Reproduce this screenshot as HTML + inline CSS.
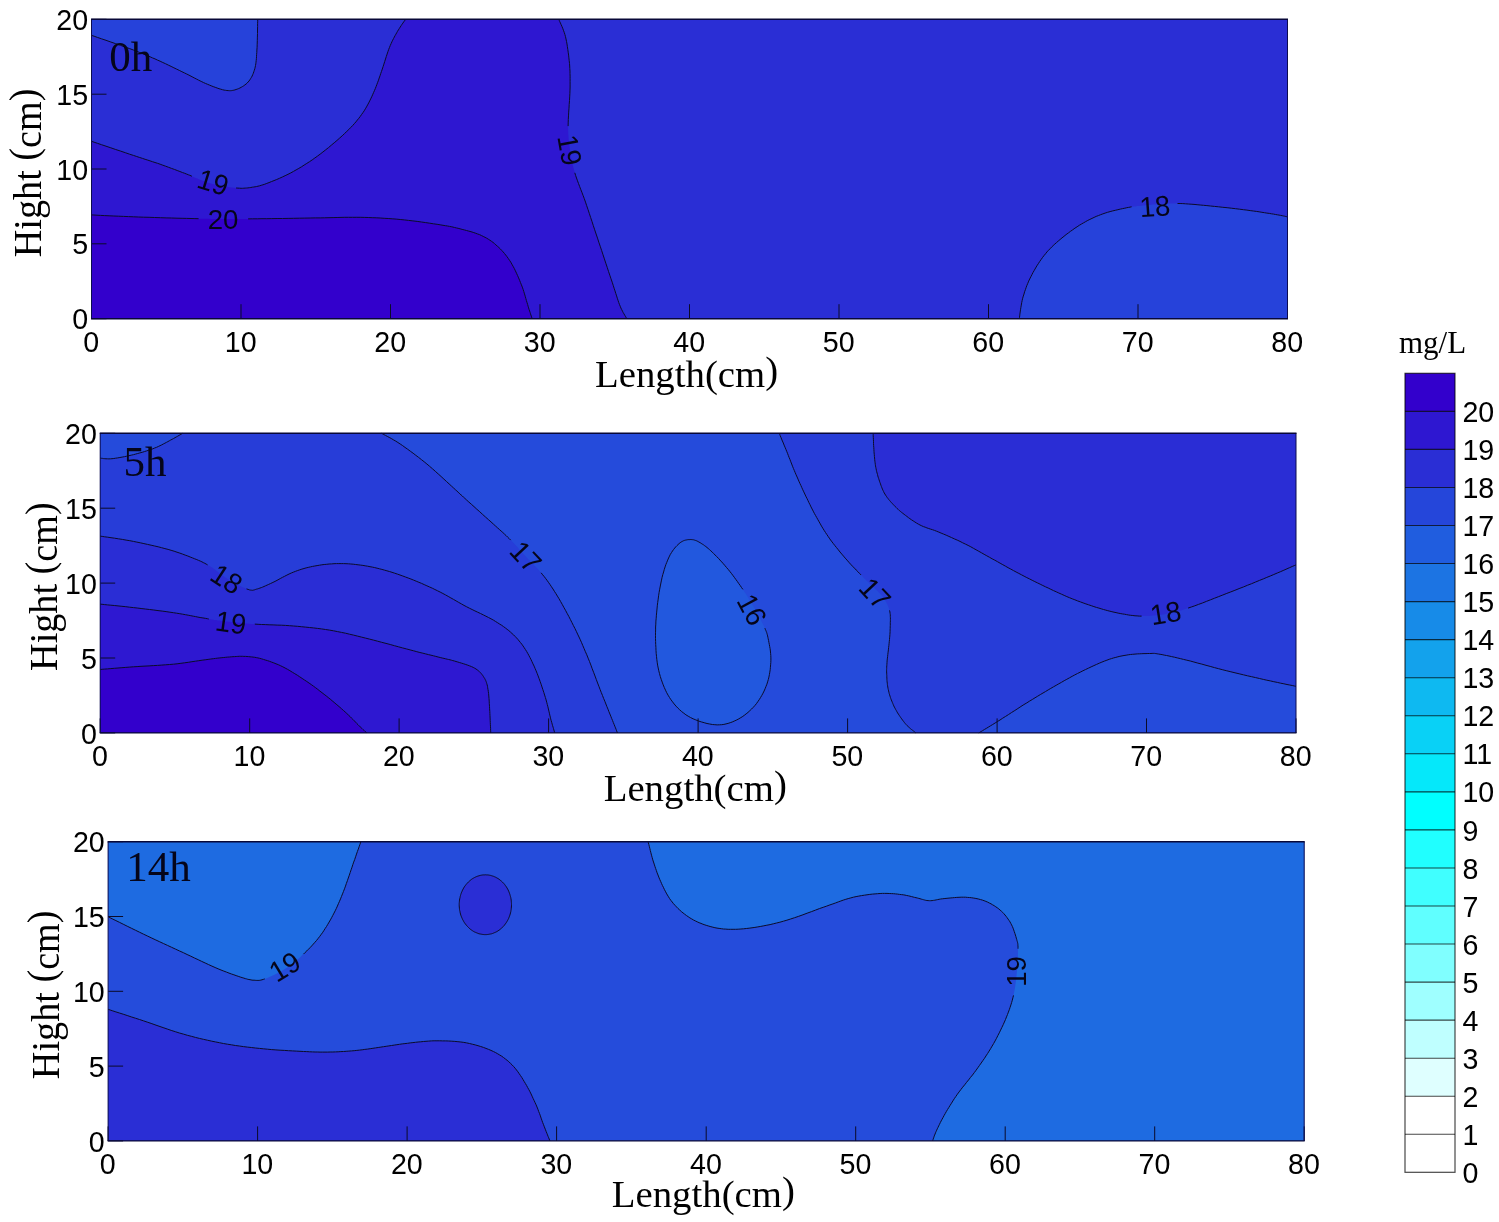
<!DOCTYPE html>
<html lang="en">
<head>
<meta charset="utf-8">
<title>Concentration contour maps at 0h, 5h and 14h</title>
<style>
html,body{margin:0;padding:0;background:#fff;}
body{width:1499px;height:1222px;overflow:hidden;}
svg{display:block;}
text{white-space:pre;}
</style>
</head>
<body>
<svg width="1499" height="1222" viewBox="0 0 1499 1222">
<rect x="0" y="0" width="1499" height="1222" fill="#ffffff"/>
<g>
<rect x="91.5" y="19.3" width="1196.0" height="299.4" fill="#2a2ed5"/>
<path d="M91.5 141.3 L94.1 142.2 L97.4 143.3 L101.5 144.7 L106.0 146.2 L110.8 147.8 L115.7 149.5 L120.6 151.1 L125.3 152.7 L129.6 154.2 L133.4 155.4 L136.7 156.5 L139.7 157.5 L142.5 158.4 L145.1 159.3 L147.7 160.1 L150.1 160.9 L152.5 161.7 L155.0 162.5 L157.5 163.3 L160.1 164.2 L162.8 165.2 L165.6 166.2 L168.6 167.3 L171.5 168.4 L174.4 169.4 L177.2 170.5 L179.9 171.5 L182.4 172.5 L184.7 173.3 L186.7 174.1 L188.4 174.8 L189.8 175.3 L191.0 175.8 L191.9 176.3 L192.8 176.7 L193.6 177.0 L194.4 177.4 L195.2 177.8 L196.2 178.2 L197.4 178.6 L198.7 179.2 L200.0 179.7 L201.4 180.2 L202.8 180.8 L204.2 181.3 L205.7 181.9 L207.3 182.5 L209.0 183.0 L210.7 183.5 L212.6 184.0 L214.7 184.5 L216.9 184.9 L219.3 185.4 L221.8 185.9 L224.4 186.4 L226.9 186.8 L229.4 187.2 L231.8 187.5 L234.1 187.8 L236.1 188.0 L237.9 188.1 L239.6 188.2 L241.1 188.3 L242.5 188.3 L243.9 188.2 L245.2 188.1 L246.6 188.0 L247.9 187.9 L249.3 187.7 L250.8 187.5 L252.3 187.2 L253.7 187.0 L255.1 186.8 L256.6 186.5 L258.0 186.2 L259.6 185.8 L261.2 185.3 L262.9 184.8 L264.8 184.2 L266.8 183.4 L269.0 182.6 L271.4 181.6 L274.0 180.6 L276.7 179.5 L279.5 178.3 L282.3 177.0 L285.1 175.7 L288.0 174.3 L290.8 172.9 L293.5 171.4 L296.1 169.9 L298.8 168.4 L301.5 166.8 L304.1 165.1 L306.8 163.4 L309.5 161.7 L312.2 159.9 L314.8 158.0 L317.5 156.1 L320.2 154.1 L322.9 152.0 L325.7 149.8 L328.5 147.6 L331.3 145.2 L334.2 142.8 L336.9 140.5 L339.6 138.1 L342.2 135.8 L344.6 133.5 L346.8 131.4 L348.9 129.4 L350.8 127.4 L352.6 125.6 L354.3 123.7 L355.9 121.9 L357.3 120.1 L358.8 118.3 L360.2 116.5 L361.5 114.6 L362.9 112.7 L364.2 110.8 L365.4 108.8 L366.5 106.9 L367.6 104.9 L368.7 102.9 L369.7 100.9 L370.7 98.9 L371.7 96.8 L372.6 94.8 L373.5 92.7 L374.4 90.7 L375.3 88.6 L376.1 86.5 L376.9 84.4 L377.7 82.3 L378.5 80.2 L379.2 78.0 L380.0 75.8 L380.7 73.6 L381.5 71.4 L382.3 69.0 L383.1 66.6 L383.9 64.1 L384.7 61.6 L385.5 59.0 L386.3 56.5 L387.1 54.1 L387.9 51.7 L388.7 49.4 L389.5 47.4 L390.3 45.4 L391.1 43.6 L391.9 41.8 L392.7 40.2 L393.5 38.6 L394.3 37.1 L395.1 35.6 L395.9 34.2 L396.7 32.8 L397.5 31.3 L398.4 29.9 L399.3 28.5 L400.2 27.1 L401.1 25.7 L402.0 24.3 L402.9 23.1 L403.7 21.9 L404.5 20.9 L405.1 20.0 L405.6 19.3 L558.8 19.3 L559.2 20.3 L559.7 21.5 L560.4 22.9 L561.1 24.6 L561.9 26.3 L562.7 28.2 L563.4 30.2 L564.2 32.3 L564.9 34.5 L565.5 36.7 L566.0 39.0 L566.5 41.4 L567.0 44.0 L567.4 46.7 L567.8 49.4 L568.2 52.2 L568.6 55.1 L568.9 57.9 L569.2 60.7 L569.5 63.4 L569.7 66.0 L569.8 68.6 L570.0 71.1 L570.0 73.6 L570.1 76.1 L570.1 78.7 L570.1 81.4 L570.1 84.1 L570.1 87.0 L570.0 90.1 L569.9 93.3 L569.7 96.9 L569.5 100.6 L569.2 104.4 L569.0 108.2 L568.7 112.1 L568.5 115.9 L568.3 119.5 L568.2 122.9 L568.1 126.1 L568.1 129.0 L568.2 131.7 L568.3 134.2 L568.5 136.6 L568.6 138.9 L568.9 141.2 L569.1 143.4 L569.4 145.6 L569.7 147.8 L570.0 150.1 L570.3 152.4 L570.7 154.6 L571.0 156.8 L571.4 158.9 L571.8 161.1 L572.3 163.3 L572.8 165.5 L573.4 167.8 L574.1 170.2 L574.8 172.8 L575.6 175.4 L576.5 178.0 L577.5 180.8 L578.5 183.5 L579.6 186.4 L580.7 189.3 L581.9 192.3 L583.1 195.5 L584.3 198.7 L585.5 202.1 L586.7 205.7 L588.0 209.5 L589.3 213.4 L590.6 217.4 L592.0 221.5 L593.3 225.6 L594.7 229.8 L596.1 234.0 L597.5 238.1 L598.8 242.2 L600.2 246.2 L601.6 250.4 L603.0 254.7 L604.4 258.9 L605.8 263.2 L607.2 267.3 L608.5 271.4 L609.8 275.2 L611.0 278.8 L612.2 282.2 L613.2 285.3 L614.1 288.2 L615.0 290.9 L615.8 293.5 L616.6 295.9 L617.3 298.2 L618.0 300.3 L618.7 302.4 L619.4 304.3 L620.2 306.2 L620.9 308.0 L621.7 309.6 L622.5 311.2 L623.2 312.6 L624.0 313.9 L624.7 315.2 L625.4 316.2 L625.9 317.2 L626.4 318.0 L626.8 318.7 L91.5 318.7 Z" fill="#2e17d1"/>
</g>
<g>
<rect x="91.5" y="19.3" width="1196.0" height="299.4" fill="none"/>
<path d="M91.5 141.3 L94.1 142.2 L97.4 143.3 L101.5 144.7 L106.0 146.2 L110.8 147.8 L115.7 149.5 L120.6 151.1 L125.3 152.7 L129.6 154.2 L133.4 155.4 L136.7 156.5 L139.7 157.5 L142.5 158.4 L145.1 159.3 L147.7 160.1 L150.1 160.9 L152.5 161.7 L155.0 162.5 L157.5 163.3 L160.1 164.2 L162.8 165.2 L165.6 166.2 L168.6 167.3 L171.5 168.4 L174.4 169.4 L177.2 170.5 L179.9 171.5 L182.4 172.5 L184.7 173.3 L186.7 174.1 L188.4 174.8 L189.8 175.3 L191.0 175.8 L191.9 176.3 L192.8 176.7 L193.6 177.0 L194.4 177.4 L195.2 177.8 L196.2 178.2 L197.4 178.6 L198.7 179.2 L200.0 179.7 L201.4 180.2 L202.8 180.8 L204.2 181.3 L205.7 181.9 L207.3 182.5 L209.0 183.0 L210.7 183.5 L212.6 184.0 L214.7 184.5 L216.9 184.9 L219.3 185.4 L221.8 185.9 L224.4 186.4 L226.9 186.8 L229.4 187.2 L231.8 187.5 L234.1 187.8 L236.1 188.0 L237.9 188.1 L239.6 188.2 L241.1 188.3 L242.5 188.3 L243.9 188.2 L245.2 188.1 L246.6 188.0 L247.9 187.9 L249.3 187.7 L250.8 187.5 L252.3 187.2 L253.7 187.0 L255.1 186.8 L256.6 186.5 L258.0 186.2 L259.6 185.8 L261.2 185.3 L262.9 184.8 L264.8 184.2 L266.8 183.4 L269.0 182.6 L271.4 181.6 L274.0 180.6 L276.7 179.5 L279.5 178.3 L282.3 177.0 L285.1 175.7 L288.0 174.3 L290.8 172.9 L293.5 171.4 L296.1 169.9 L298.8 168.4 L301.5 166.8 L304.1 165.1 L306.8 163.4 L309.5 161.7 L312.2 159.9 L314.8 158.0 L317.5 156.1 L320.2 154.1 L322.9 152.0 L325.7 149.8 L328.5 147.6 L331.3 145.2 L334.2 142.8 L336.9 140.5 L339.6 138.1 L342.2 135.8 L344.6 133.5 L346.8 131.4 L348.9 129.4 L350.8 127.4 L352.6 125.6 L354.3 123.7 L355.9 121.9 L357.3 120.1 L358.8 118.3 L360.2 116.5 L361.5 114.6 L362.9 112.7 L364.2 110.8 L365.4 108.8 L366.5 106.9 L367.6 104.9 L368.7 102.9 L369.7 100.9 L370.7 98.9 L371.7 96.8 L372.6 94.8 L373.5 92.7 L374.4 90.7 L375.3 88.6 L376.1 86.5 L376.9 84.4 L377.7 82.3 L378.5 80.2 L379.2 78.0 L380.0 75.8 L380.7 73.6 L381.5 71.4 L382.3 69.0 L383.1 66.6 L383.9 64.1 L384.7 61.6 L385.5 59.0 L386.3 56.5 L387.1 54.1 L387.9 51.7 L388.7 49.4 L389.5 47.4 L390.3 45.4 L391.1 43.6 L391.9 41.8 L392.7 40.2 L393.5 38.6 L394.3 37.1 L395.1 35.6 L395.9 34.2 L396.7 32.8 L397.5 31.3 L398.4 29.9 L399.3 28.5 L400.2 27.1 L401.1 25.7 L402.0 24.3 L402.9 23.1 L403.7 21.9 L404.5 20.9 L405.1 20.0 L405.6 19.3 Z" fill="none"/>
<path d="M558.8 19.3 L559.2 20.3 L559.7 21.5 L560.4 22.9 L561.1 24.6 L561.9 26.3 L562.7 28.2 L563.4 30.2 L564.2 32.3 L564.9 34.5 L565.5 36.7 L566.0 39.0 L566.5 41.4 L567.0 44.0 L567.4 46.7 L567.8 49.4 L568.2 52.2 L568.6 55.1 L568.9 57.9 L569.2 60.7 L569.5 63.4 L569.7 66.0 L569.8 68.6 L570.0 71.1 L570.0 73.6 L570.1 76.1 L570.1 78.7 L570.1 81.4 L570.1 84.1 L570.1 87.0 L570.0 90.1 L569.9 93.3 L569.7 96.9 L569.5 100.6 L569.2 104.4 L569.0 108.2 L568.7 112.1 L568.5 115.9 L568.3 119.5 L568.2 122.9 L568.1 126.1 L568.1 129.0 L568.2 131.7 L568.3 134.2 L568.5 136.6 L568.6 138.9 L568.9 141.2 L569.1 143.4 L569.4 145.6 L569.7 147.8 L570.0 150.1 L570.3 152.4 L570.7 154.6 L571.0 156.8 L571.4 158.9 L571.8 161.1 L572.3 163.3 L572.8 165.5 L573.4 167.8 L574.1 170.2 L574.8 172.8 L575.6 175.4 L576.5 178.0 L577.5 180.8 L578.5 183.5 L579.6 186.4 L580.7 189.3 L581.9 192.3 L583.1 195.5 L584.3 198.7 L585.5 202.1 L586.7 205.7 L588.0 209.5 L589.3 213.4 L590.6 217.4 L592.0 221.5 L593.3 225.6 L594.7 229.8 L596.1 234.0 L597.5 238.1 L598.8 242.2 L600.2 246.2 L601.6 250.4 L603.0 254.7 L604.4 258.9 L605.8 263.2 L607.2 267.3 L608.5 271.4 L609.8 275.2 L611.0 278.8 L612.2 282.2 L613.2 285.3 L614.1 288.2 L615.0 290.9 L615.8 293.5 L616.6 295.9 L617.3 298.2 L618.0 300.3 L618.7 302.4 L619.4 304.3 L620.2 306.2 L620.9 308.0 L621.7 309.6 L622.5 311.2 L623.2 312.6 L624.0 313.9 L624.7 315.2 L625.4 316.2 L625.9 317.2 L626.4 318.0 L626.8 318.7 Z" fill="none"/>
<path d="M91.5 214.9 L93.9 215.0 L97.0 215.2 L100.6 215.4 L104.7 215.6 L109.1 215.8 L113.8 216.0 L118.6 216.2 L123.6 216.4 L128.5 216.6 L133.4 216.8 L138.3 217.0 L143.6 217.2 L149.1 217.3 L154.7 217.5 L160.4 217.7 L166.1 217.9 L171.6 218.0 L177.0 218.2 L182.1 218.3 L186.7 218.4 L191.0 218.5 L194.9 218.6 L198.6 218.7 L202.0 218.7 L205.3 218.8 L208.6 218.8 L211.9 218.9 L215.3 218.9 L218.9 218.9 L222.8 218.9 L226.8 218.9 L230.9 218.9 L235.1 218.9 L239.3 218.9 L243.7 218.9 L248.1 218.9 L252.6 218.8 L257.3 218.8 L262.0 218.7 L266.8 218.7 L271.8 218.6 L277.1 218.5 L282.5 218.5 L288.1 218.4 L293.7 218.3 L299.3 218.2 L304.8 218.1 L310.2 218.0 L315.3 217.9 L320.2 217.9 L324.7 217.8 L329.0 217.7 L333.1 217.6 L337.1 217.5 L341.0 217.4 L344.8 217.3 L348.6 217.3 L352.4 217.3 L356.2 217.3 L360.2 217.3 L364.2 217.4 L368.2 217.5 L372.2 217.7 L376.2 217.8 L380.2 218.0 L384.2 218.3 L388.2 218.5 L392.2 218.8 L396.2 219.1 L400.2 219.5 L404.3 219.9 L408.5 220.4 L412.9 220.9 L417.2 221.4 L421.5 222.0 L425.7 222.6 L429.7 223.2 L433.5 223.8 L437.1 224.3 L440.2 224.8 L443.0 225.3 L445.5 225.7 L447.6 226.0 L449.5 226.4 L451.3 226.7 L453.0 227.1 L454.6 227.5 L456.3 227.9 L458.1 228.3 L460.1 228.8 L462.1 229.4 L464.3 229.9 L466.5 230.5 L468.7 231.1 L471.0 231.7 L473.2 232.4 L475.3 233.1 L477.4 233.9 L479.5 234.6 L481.4 235.5 L483.2 236.4 L485.0 237.3 L486.7 238.2 L488.3 239.2 L489.9 240.2 L491.5 241.3 L493.0 242.4 L494.5 243.6 L495.9 244.9 L497.4 246.2 L498.9 247.5 L500.3 248.9 L501.7 250.4 L503.1 251.9 L504.4 253.4 L505.7 255.0 L507.0 256.7 L508.3 258.5 L509.5 260.3 L510.8 262.2 L511.9 264.2 L513.1 266.3 L514.3 268.5 L515.4 270.8 L516.5 273.2 L517.6 275.6 L518.6 277.9 L519.6 280.3 L520.5 282.6 L521.4 284.8 L522.3 287.1 L523.1 289.3 L523.8 291.6 L524.5 293.9 L525.2 296.2 L525.8 298.4 L526.4 300.5 L527.0 302.5 L527.6 304.4 L528.1 306.2 L528.6 307.9 L529.1 309.5 L529.6 311.0 L530.1 312.4 L530.5 313.8 L530.9 315.0 L531.3 316.1 L531.6 317.1 L531.9 318.0 L532.1 318.7 L91.5 318.7 Z" fill="#3300cc"/>
<path d="M91.5 35.4 L94.1 36.2 L97.4 37.4 L101.5 38.8 L106.0 40.3 L110.8 42.0 L115.7 43.7 L120.6 45.4 L125.3 47.1 L129.6 48.6 L133.4 50.0 L136.7 51.3 L139.7 52.5 L142.5 53.6 L145.1 54.7 L147.7 55.7 L150.1 56.8 L152.5 57.9 L155.0 58.9 L157.5 60.1 L160.1 61.2 L162.8 62.5 L165.5 63.7 L168.3 65.1 L171.1 66.4 L173.9 67.8 L176.6 69.1 L179.3 70.4 L181.9 71.7 L184.4 72.9 L186.7 74.0 L188.9 75.1 L191.0 76.2 L192.9 77.2 L194.8 78.2 L196.6 79.1 L198.3 80.0 L200.1 80.9 L201.8 81.7 L203.6 82.6 L205.4 83.4 L207.3 84.2 L209.3 85.0 L211.2 85.8 L213.2 86.6 L215.2 87.3 L217.1 88.0 L219.0 88.7 L220.8 89.2 L222.5 89.7 L224.1 90.1 L225.6 90.3 L226.9 90.5 L228.2 90.6 L229.4 90.7 L230.5 90.7 L231.6 90.6 L232.7 90.4 L233.8 90.2 L234.9 89.9 L236.1 89.5 L237.3 89.1 L238.6 88.6 L239.9 88.0 L241.2 87.3 L242.4 86.6 L243.7 85.8 L244.9 84.9 L246.1 84.0 L247.1 83.1 L248.1 82.0 L249.0 81.0 L249.9 79.8 L250.6 78.6 L251.4 77.4 L252.1 76.1 L252.7 74.7 L253.3 73.3 L253.8 71.8 L254.3 70.3 L254.8 68.7 L255.2 67.1 L255.5 65.5 L255.8 63.9 L256.0 62.2 L256.2 60.5 L256.4 58.6 L256.5 56.7 L256.6 54.6 L256.8 52.4 L256.9 50.0 L257.1 47.3 L257.2 44.2 L257.3 40.7 L257.4 37.1 L257.5 33.5 L257.5 30.0 L257.6 26.6 L257.6 23.7 L257.7 21.2 L257.7 19.3 L91.5 19.3 Z" fill="#2642da"/>
<path d="M1019.3 318.7 L1019.5 317.5 L1019.7 315.9 L1019.9 314.1 L1020.2 312.0 L1020.5 309.8 L1020.9 307.4 L1021.3 305.1 L1021.7 302.7 L1022.2 300.4 L1022.7 298.2 L1023.3 296.1 L1024.0 294.0 L1024.6 291.8 L1025.4 289.7 L1026.1 287.6 L1026.9 285.4 L1027.8 283.3 L1028.7 281.1 L1029.7 279.0 L1030.8 276.8 L1031.9 274.7 L1033.0 272.5 L1034.3 270.3 L1035.6 268.0 L1036.9 265.8 L1038.3 263.7 L1039.7 261.5 L1041.2 259.4 L1042.6 257.4 L1044.1 255.5 L1045.6 253.7 L1047.0 251.9 L1048.5 250.3 L1050.1 248.7 L1051.6 247.1 L1053.2 245.6 L1054.8 244.1 L1056.5 242.6 L1058.3 241.0 L1060.1 239.5 L1062.0 237.9 L1064.0 236.3 L1066.1 234.6 L1068.3 233.0 L1070.4 231.4 L1072.7 229.8 L1074.9 228.2 L1077.1 226.8 L1079.3 225.3 L1081.5 224.0 L1083.6 222.8 L1085.7 221.6 L1087.8 220.4 L1089.9 219.4 L1092.0 218.4 L1094.1 217.4 L1096.2 216.4 L1098.4 215.6 L1100.6 214.7 L1102.8 213.9 L1105.1 213.1 L1107.6 212.3 L1110.1 211.6 L1112.7 210.9 L1115.3 210.3 L1117.9 209.7 L1120.3 209.1 L1122.7 208.6 L1124.8 208.2 L1126.8 207.7 L1128.6 207.4 L1130.1 207.1 L1131.6 206.8 L1132.9 206.7 L1134.1 206.5 L1135.2 206.4 L1136.4 206.3 L1137.6 206.1 L1138.8 206.0 L1140.2 205.9 L1141.5 205.7 L1142.9 205.6 L1144.2 205.4 L1145.6 205.3 L1146.9 205.1 L1148.3 205.0 L1149.8 204.9 L1151.4 204.8 L1153.0 204.6 L1154.8 204.5 L1156.8 204.4 L1158.8 204.2 L1160.8 204.1 L1163.0 203.9 L1165.3 203.8 L1167.6 203.6 L1170.0 203.5 L1172.4 203.5 L1174.9 203.4 L1177.5 203.5 L1180.1 203.5 L1182.8 203.6 L1185.5 203.8 L1188.3 204.0 L1191.1 204.2 L1194.0 204.4 L1197.1 204.7 L1200.2 205.0 L1203.5 205.3 L1206.9 205.6 L1210.5 206.0 L1214.4 206.4 L1218.5 206.8 L1222.8 207.3 L1227.1 207.7 L1231.3 208.2 L1235.5 208.7 L1239.6 209.2 L1243.4 209.7 L1246.9 210.1 L1250.2 210.6 L1253.3 211.0 L1256.3 211.4 L1259.1 211.8 L1261.9 212.3 L1264.5 212.7 L1266.9 213.1 L1269.3 213.4 L1271.5 213.8 L1273.6 214.1 L1275.6 214.5 L1277.4 214.8 L1279.1 215.1 L1280.7 215.4 L1282.2 215.7 L1283.5 216.0 L1284.7 216.2 L1285.8 216.5 L1286.7 216.7 L1287.5 216.8 L1287.5 318.7 Z" fill="#2642da"/>
<path d="M91.5 141.3 L94.1 142.2 L97.4 143.3 L101.5 144.7 L106.0 146.2 L110.8 147.8 L115.7 149.5 L120.6 151.1 L125.3 152.7 L129.6 154.2 L133.4 155.4 L136.7 156.5 L139.7 157.5 L142.5 158.4 L145.1 159.3 L147.7 160.1 L150.1 160.9 L152.5 161.7 L155.0 162.5 L157.5 163.3 L160.1 164.2 L162.8 165.2 L165.6 166.2 L168.6 167.3 L171.5 168.4 L174.4 169.4 L177.2 170.5 L179.9 171.5 L182.4 172.5 L184.7 173.3 L186.7 174.1 L188.4 174.8 L189.8 175.3 L191.0 175.8 L191.9 176.3" fill="none" stroke="#0b0b2a" stroke-width="1"/>
<path d="M236.1 188.0 L237.9 188.1 L239.6 188.2 L241.1 188.3 L242.5 188.3 L243.9 188.2 L245.2 188.1 L246.6 188.0 L247.9 187.9 L249.3 187.7 L250.8 187.5 L252.3 187.2 L253.7 187.0 L255.1 186.8 L256.6 186.5 L258.0 186.2 L259.6 185.8 L261.2 185.3 L262.9 184.8 L264.8 184.2 L266.8 183.4 L269.0 182.6 L271.4 181.6 L274.0 180.6 L276.7 179.5 L279.5 178.3 L282.3 177.0 L285.1 175.7 L288.0 174.3 L290.8 172.9 L293.5 171.4 L296.1 169.9 L298.8 168.4 L301.5 166.8 L304.1 165.1 L306.8 163.4 L309.5 161.7 L312.2 159.9 L314.8 158.0 L317.5 156.1 L320.2 154.1 L322.9 152.0 L325.7 149.8 L328.5 147.6 L331.3 145.2 L334.2 142.8 L336.9 140.5 L339.6 138.1 L342.2 135.8 L344.6 133.5 L346.8 131.4 L348.9 129.4 L350.8 127.4 L352.6 125.6 L354.3 123.7 L355.9 121.9 L357.3 120.1 L358.8 118.3 L360.2 116.5 L361.5 114.6 L362.9 112.7 L364.2 110.8 L365.4 108.8 L366.5 106.9 L367.6 104.9 L368.7 102.9 L369.7 100.9 L370.7 98.9 L371.7 96.8 L372.6 94.8 L373.5 92.7 L374.4 90.7 L375.3 88.6 L376.1 86.5 L376.9 84.4 L377.7 82.3 L378.5 80.2 L379.2 78.0 L380.0 75.8 L380.7 73.6 L381.5 71.4 L382.3 69.0 L383.1 66.6 L383.9 64.1 L384.7 61.6 L385.5 59.0 L386.3 56.5 L387.1 54.1 L387.9 51.7 L388.7 49.4 L389.5 47.4 L390.3 45.4 L391.1 43.6 L391.9 41.8 L392.7 40.2 L393.5 38.6 L394.3 37.1 L395.1 35.6 L395.9 34.2 L396.7 32.8 L397.5 31.3 L398.4 29.9 L399.3 28.5 L400.2 27.1 L401.1 25.7 L402.0 24.3 L402.9 23.1 L403.7 21.9 L404.5 20.9 L405.1 20.0 L405.6 19.3" fill="none" stroke="#0b0b2a" stroke-width="1"/>
<path d="M558.8 19.3 L559.2 20.3 L559.7 21.5 L560.4 22.9 L561.1 24.6 L561.9 26.3 L562.7 28.2 L563.4 30.2 L564.2 32.3 L564.9 34.5 L565.5 36.7 L566.0 39.0 L566.5 41.4 L567.0 44.0 L567.4 46.7 L567.8 49.4 L568.2 52.2 L568.6 55.1 L568.9 57.9 L569.2 60.7 L569.5 63.4 L569.7 66.0 L569.8 68.6 L570.0 71.1 L570.0 73.6 L570.1 76.1 L570.1 78.7 L570.1 81.4 L570.1 84.1 L570.1 87.0 L570.0 90.1 L569.9 93.3 L569.7 96.9 L569.5 100.6 L569.2 104.4 L569.0 108.2 L568.7 112.1 L568.5 115.9 L568.3 119.5 L568.2 122.9 L568.1 126.1" fill="none" stroke="#0b0b2a" stroke-width="1"/>
<path d="M574.8 172.8 L575.6 175.4 L576.5 178.0 L577.5 180.8 L578.5 183.5 L579.6 186.4 L580.7 189.3 L581.9 192.3 L583.1 195.5 L584.3 198.7 L585.5 202.1 L586.7 205.7 L588.0 209.5 L589.3 213.4 L590.6 217.4 L592.0 221.5 L593.3 225.6 L594.7 229.8 L596.1 234.0 L597.5 238.1 L598.8 242.2 L600.2 246.2 L601.6 250.4 L603.0 254.7 L604.4 258.9 L605.8 263.2 L607.2 267.3 L608.5 271.4 L609.8 275.2 L611.0 278.8 L612.2 282.2 L613.2 285.3 L614.1 288.2 L615.0 290.9 L615.8 293.5 L616.6 295.9 L617.3 298.2 L618.0 300.3 L618.7 302.4 L619.4 304.3 L620.2 306.2 L620.9 308.0 L621.7 309.6 L622.5 311.2 L623.2 312.6 L624.0 313.9 L624.7 315.2 L625.4 316.2 L625.9 317.2 L626.4 318.0 L626.8 318.7" fill="none" stroke="#0b0b2a" stroke-width="1"/>
<path d="M91.5 214.9 L93.9 215.0 L97.0 215.2 L100.6 215.4 L104.7 215.6 L109.1 215.8 L113.8 216.0 L118.6 216.2 L123.6 216.4 L128.5 216.6 L133.4 216.8 L138.3 217.0 L143.6 217.2 L149.1 217.3 L154.7 217.5 L160.4 217.7 L166.1 217.9 L171.6 218.0 L177.0 218.2 L182.1 218.3 L186.7 218.4 L191.0 218.5 L194.9 218.6 L198.6 218.7" fill="none" stroke="#0b0b2a" stroke-width="1"/>
<path d="M248.1 218.9 L252.6 218.8 L257.3 218.8 L262.0 218.7 L266.8 218.7 L271.8 218.6 L277.1 218.5 L282.5 218.5 L288.1 218.4 L293.7 218.3 L299.3 218.2 L304.8 218.1 L310.2 218.0 L315.3 217.9 L320.2 217.9 L324.7 217.8 L329.0 217.7 L333.1 217.6 L337.1 217.5 L341.0 217.4 L344.8 217.3 L348.6 217.3 L352.4 217.3 L356.2 217.3 L360.2 217.3 L364.2 217.4 L368.2 217.5 L372.2 217.7 L376.2 217.8 L380.2 218.0 L384.2 218.3 L388.2 218.5 L392.2 218.8 L396.2 219.1 L400.2 219.5 L404.3 219.9 L408.5 220.4 L412.9 220.9 L417.2 221.4 L421.5 222.0 L425.7 222.6 L429.7 223.2 L433.5 223.8 L437.1 224.3 L440.2 224.8 L443.0 225.3 L445.5 225.7 L447.6 226.0 L449.5 226.4 L451.3 226.7 L453.0 227.1 L454.6 227.5 L456.3 227.9 L458.1 228.3 L460.1 228.8 L462.1 229.4 L464.3 229.9 L466.5 230.5 L468.7 231.1 L471.0 231.7 L473.2 232.4 L475.3 233.1 L477.4 233.9 L479.5 234.6 L481.4 235.5 L483.2 236.4 L485.0 237.3 L486.7 238.2 L488.3 239.2 L489.9 240.2 L491.5 241.3 L493.0 242.4 L494.5 243.6 L495.9 244.9 L497.4 246.2 L498.9 247.5 L500.3 248.9 L501.7 250.4 L503.1 251.9 L504.4 253.4 L505.7 255.0 L507.0 256.7 L508.3 258.5 L509.5 260.3 L510.8 262.2 L511.9 264.2 L513.1 266.3 L514.3 268.5 L515.4 270.8 L516.5 273.2 L517.6 275.6 L518.6 277.9 L519.6 280.3 L520.5 282.6 L521.4 284.8 L522.3 287.1 L523.1 289.3 L523.8 291.6 L524.5 293.9 L525.2 296.2 L525.8 298.4 L526.4 300.5 L527.0 302.5 L527.6 304.4 L528.1 306.2 L528.6 307.9 L529.1 309.5 L529.6 311.0 L530.1 312.4 L530.5 313.8 L530.9 315.0 L531.3 316.1 L531.6 317.1 L531.9 318.0 L532.1 318.7" fill="none" stroke="#0b0b2a" stroke-width="1"/>
<path d="M91.5 35.4 L94.1 36.2 L97.4 37.4 L101.5 38.8 L106.0 40.3 L110.8 42.0 L115.7 43.7 L120.6 45.4 L125.3 47.1 L129.6 48.6 L133.4 50.0 L136.7 51.3 L139.7 52.5 L142.5 53.6 L145.1 54.7 L147.7 55.7 L150.1 56.8 L152.5 57.9 L155.0 58.9 L157.5 60.1 L160.1 61.2 L162.8 62.5 L165.5 63.7 L168.3 65.1 L171.1 66.4 L173.9 67.8 L176.6 69.1 L179.3 70.4 L181.9 71.7 L184.4 72.9 L186.7 74.0 L188.9 75.1 L191.0 76.2 L192.9 77.2 L194.8 78.2 L196.6 79.1 L198.3 80.0 L200.1 80.9 L201.8 81.7 L203.6 82.6 L205.4 83.4 L207.3 84.2 L209.3 85.0 L211.2 85.8 L213.2 86.6 L215.2 87.3 L217.1 88.0 L219.0 88.7 L220.8 89.2 L222.5 89.7 L224.1 90.1 L225.6 90.3 L226.9 90.5 L228.2 90.6 L229.4 90.7 L230.5 90.7 L231.6 90.6 L232.7 90.4 L233.8 90.2 L234.9 89.9 L236.1 89.5 L237.3 89.1 L238.6 88.6 L239.9 88.0 L241.2 87.3 L242.4 86.6 L243.7 85.8 L244.9 84.9 L246.1 84.0 L247.1 83.1 L248.1 82.0 L249.0 81.0 L249.9 79.8 L250.6 78.6 L251.4 77.4 L252.1 76.1 L252.7 74.7 L253.3 73.3 L253.8 71.8 L254.3 70.3 L254.8 68.7 L255.2 67.1 L255.5 65.5 L255.8 63.9 L256.0 62.2 L256.2 60.5 L256.4 58.6 L256.5 56.7 L256.6 54.6 L256.8 52.4 L256.9 50.0 L257.1 47.3 L257.2 44.2 L257.3 40.7 L257.4 37.1 L257.5 33.5 L257.5 30.0 L257.6 26.6 L257.6 23.7 L257.7 21.2 L257.7 19.3" fill="none" stroke="#0b0b2a" stroke-width="1"/>
<path d="M1019.3 318.7 L1019.5 317.5 L1019.7 315.9 L1019.9 314.1 L1020.2 312.0 L1020.5 309.8 L1020.9 307.4 L1021.3 305.1 L1021.7 302.7 L1022.2 300.4 L1022.7 298.2 L1023.3 296.1 L1024.0 294.0 L1024.6 291.8 L1025.4 289.7 L1026.1 287.6 L1026.9 285.4 L1027.8 283.3 L1028.7 281.1 L1029.7 279.0 L1030.8 276.8 L1031.9 274.7 L1033.0 272.5 L1034.3 270.3 L1035.6 268.0 L1036.9 265.8 L1038.3 263.7 L1039.7 261.5 L1041.2 259.4 L1042.6 257.4 L1044.1 255.5 L1045.6 253.7 L1047.0 251.9 L1048.5 250.3 L1050.1 248.7 L1051.6 247.1 L1053.2 245.6 L1054.8 244.1 L1056.5 242.6 L1058.3 241.0 L1060.1 239.5 L1062.0 237.9 L1064.0 236.3 L1066.1 234.6 L1068.3 233.0 L1070.4 231.4 L1072.7 229.8 L1074.9 228.2 L1077.1 226.8 L1079.3 225.3 L1081.5 224.0 L1083.6 222.8 L1085.7 221.6 L1087.8 220.4 L1089.9 219.4 L1092.0 218.4 L1094.1 217.4 L1096.2 216.4 L1098.4 215.6 L1100.6 214.7 L1102.8 213.9 L1105.1 213.1 L1107.6 212.3 L1110.1 211.6 L1112.7 210.9 L1115.3 210.3 L1117.9 209.7 L1120.3 209.1 L1122.7 208.6 L1124.8 208.2 L1126.8 207.7 L1128.6 207.4 L1130.1 207.1 L1131.6 206.8" fill="none" stroke="#0b0b2a" stroke-width="1"/>
<path d="M1177.5 203.5 L1180.1 203.5 L1182.8 203.6 L1185.5 203.8 L1188.3 204.0 L1191.1 204.2 L1194.0 204.4 L1197.1 204.7 L1200.2 205.0 L1203.5 205.3 L1206.9 205.6 L1210.5 206.0 L1214.4 206.4 L1218.5 206.8 L1222.8 207.3 L1227.1 207.7 L1231.3 208.2 L1235.5 208.7 L1239.6 209.2 L1243.4 209.7 L1246.9 210.1 L1250.2 210.6 L1253.3 211.0 L1256.3 211.4 L1259.1 211.8 L1261.9 212.3 L1264.5 212.7 L1266.9 213.1 L1269.3 213.4 L1271.5 213.8 L1273.6 214.1 L1275.6 214.5 L1277.4 214.8 L1279.1 215.1 L1280.7 215.4 L1282.2 215.7 L1283.5 216.0 L1284.7 216.2 L1285.8 216.5 L1286.7 216.7 L1287.5 216.8" fill="none" stroke="#0b0b2a" stroke-width="1"/>
<text transform="translate(213.2 182.1) rotate(17.0) scale(0.97 1)" x="0" y="10.2" text-anchor="middle" font-family="'Liberation Sans', sans-serif" font-size="28.5" fill="#05051a">19</text>
<text transform="translate(570.0 150.1) rotate(80.0) scale(0.97 1)" x="0" y="10.2" text-anchor="middle" font-family="'Liberation Sans', sans-serif" font-size="28.5" fill="#05051a">19</text>
<text transform="translate(223.0 218.7) rotate(0.0) scale(0.97 1)" x="0" y="10.2" text-anchor="middle" font-family="'Liberation Sans', sans-serif" font-size="28.5" fill="#05051a">20</text>
<text transform="translate(1154.8 206.1) rotate(-4.0) scale(0.97 1)" x="0" y="10.2" text-anchor="middle" font-family="'Liberation Sans', sans-serif" font-size="28.5" fill="#05051a">18</text>
<line x1="91.5" y1="318.7" x2="91.5" y2="304.2" stroke="#0b0b2a" stroke-width="1"/>
<text transform="translate(91.2 351.6) scale(0.97 1)" text-anchor="middle" font-family="'Liberation Sans', sans-serif" font-size="29.5" fill="#000">0</text>
<line x1="241.0" y1="318.7" x2="241.0" y2="304.2" stroke="#0b0b2a" stroke-width="1"/>
<text transform="translate(240.7 351.6) scale(0.97 1)" text-anchor="middle" font-family="'Liberation Sans', sans-serif" font-size="29.5" fill="#000">10</text>
<line x1="390.5" y1="318.7" x2="390.5" y2="304.2" stroke="#0b0b2a" stroke-width="1"/>
<text transform="translate(390.2 351.6) scale(0.97 1)" text-anchor="middle" font-family="'Liberation Sans', sans-serif" font-size="29.5" fill="#000">20</text>
<line x1="540.0" y1="318.7" x2="540.0" y2="304.2" stroke="#0b0b2a" stroke-width="1"/>
<text transform="translate(539.7 351.6) scale(0.97 1)" text-anchor="middle" font-family="'Liberation Sans', sans-serif" font-size="29.5" fill="#000">30</text>
<line x1="689.5" y1="318.7" x2="689.5" y2="304.2" stroke="#0b0b2a" stroke-width="1"/>
<text transform="translate(689.2 351.6) scale(0.97 1)" text-anchor="middle" font-family="'Liberation Sans', sans-serif" font-size="29.5" fill="#000">40</text>
<line x1="839.0" y1="318.7" x2="839.0" y2="304.2" stroke="#0b0b2a" stroke-width="1"/>
<text transform="translate(838.7 351.6) scale(0.97 1)" text-anchor="middle" font-family="'Liberation Sans', sans-serif" font-size="29.5" fill="#000">50</text>
<line x1="988.5" y1="318.7" x2="988.5" y2="304.2" stroke="#0b0b2a" stroke-width="1"/>
<text transform="translate(988.2 351.6) scale(0.97 1)" text-anchor="middle" font-family="'Liberation Sans', sans-serif" font-size="29.5" fill="#000">60</text>
<line x1="1138.0" y1="318.7" x2="1138.0" y2="304.2" stroke="#0b0b2a" stroke-width="1"/>
<text transform="translate(1137.7 351.6) scale(0.97 1)" text-anchor="middle" font-family="'Liberation Sans', sans-serif" font-size="29.5" fill="#000">70</text>
<line x1="1287.5" y1="318.7" x2="1287.5" y2="304.2" stroke="#0b0b2a" stroke-width="1"/>
<text transform="translate(1287.2 351.6) scale(0.97 1)" text-anchor="middle" font-family="'Liberation Sans', sans-serif" font-size="29.5" fill="#000">80</text>
<line x1="91.5" y1="318.7" x2="106.5" y2="318.7" stroke="#0b0b2a" stroke-width="1"/>
<text transform="translate(88.1 329.3) scale(0.97 1)" text-anchor="end" font-family="'Liberation Sans', sans-serif" font-size="29.5" fill="#000">0</text>
<line x1="91.5" y1="243.8" x2="106.5" y2="243.8" stroke="#0b0b2a" stroke-width="1"/>
<text transform="translate(88.1 254.4) scale(0.97 1)" text-anchor="end" font-family="'Liberation Sans', sans-serif" font-size="29.5" fill="#000">5</text>
<line x1="91.5" y1="169.0" x2="106.5" y2="169.0" stroke="#0b0b2a" stroke-width="1"/>
<text transform="translate(88.1 179.6) scale(0.97 1)" text-anchor="end" font-family="'Liberation Sans', sans-serif" font-size="29.5" fill="#000">10</text>
<line x1="91.5" y1="94.2" x2="106.5" y2="94.2" stroke="#0b0b2a" stroke-width="1"/>
<text transform="translate(88.1 104.8) scale(0.97 1)" text-anchor="end" font-family="'Liberation Sans', sans-serif" font-size="29.5" fill="#000">15</text>
<line x1="91.5" y1="19.3" x2="106.5" y2="19.3" stroke="#0b0b2a" stroke-width="1"/>
<text transform="translate(88.1 29.9) scale(0.97 1)" text-anchor="end" font-family="'Liberation Sans', sans-serif" font-size="29.5" fill="#000">20</text>
<path d="M91.5 19.3 V318.7 M1287.5 19.3 V318.7" fill="none" stroke="#0c0c50" stroke-width="1"/>
<path d="M91.0 19.3 H1288.0 M91.0 318.7 H1288.0" fill="none" stroke="#080838" stroke-width="1.4"/>
<text x="109.3" y="71.4" font-family="'Liberation Serif', serif" font-size="43" fill="#05051a">0h</text>
<text x="595.0" y="386.6" font-family="'Liberation Serif', serif" font-size="38.8" fill="#000">Length(cm<tspan dy="-4">)</tspan></text>
<text transform="translate(41.0 172.9) rotate(-90) scale(0.955 1)" text-anchor="middle" font-family="'Liberation Serif', serif" font-size="40.0" fill="#000">Hight <tspan dy="-4.5">(</tspan><tspan dy="4.5">cm</tspan><tspan dy="-4.5">)</tspan></text>
</g>
<g>
<rect x="100.2" y="433.3" width="1195.8" height="299.6" fill="#254bdb"/>
</g>
<g>
<rect x="100.2" y="433.3" width="1195.8" height="299.6" fill="none"/>
<path d="M381.5 433.3 L382.6 433.9 L383.9 434.6 L385.5 435.4 L387.3 436.4 L389.2 437.4 L391.3 438.5 L393.4 439.8 L395.7 441.1 L397.9 442.5 L400.2 444.0 L402.6 445.6 L405.0 447.4 L407.6 449.2 L410.3 451.2 L413.1 453.2 L415.8 455.3 L418.6 457.4 L421.4 459.6 L424.2 461.8 L426.9 464.0 L429.6 466.3 L432.5 468.8 L435.3 471.3 L438.2 473.9 L441.1 476.5 L443.9 479.1 L446.6 481.6 L449.1 483.9 L451.5 486.1 L453.6 488.0 L455.4 489.7 L456.9 491.0 L458.1 492.2 L459.1 493.1 L460.1 494.0 L461.1 495.0 L462.2 495.9 L463.4 497.1 L464.9 498.4 L466.7 500.1 L468.8 502.0 L471.3 504.2 L474.0 506.6 L476.8 509.2 L479.8 511.8 L482.7 514.5 L485.6 517.1 L488.4 519.6 L491.0 521.9 L493.4 524.1 L495.5 526.0 L497.5 527.8 L499.3 529.4 L501.1 531.0 L502.8 532.5 L504.4 534.0 L506.0 535.5 L507.5 537.0 L509.1 538.5 L510.7 540.1 L512.3 541.7 L513.9 543.3 L515.4 545.0 L516.9 546.6 L518.4 548.2 L519.8 549.9 L521.3 551.5 L522.8 553.2 L524.3 554.9 L525.9 556.6 L527.5 558.4 L529.2 560.1 L530.9 561.8 L532.6 563.6 L534.4 565.4 L536.1 567.2 L537.8 569.0 L539.5 570.9 L541.1 572.8 L542.7 574.8 L544.3 576.7 L545.8 578.7 L547.3 580.7 L548.7 582.7 L550.1 584.7 L551.5 586.8 L553.0 589.0 L554.4 591.3 L555.9 593.6 L557.4 596.1 L559.0 598.7 L560.6 601.5 L562.2 604.3 L563.8 607.3 L565.5 610.3 L567.1 613.3 L568.8 616.4 L570.4 619.5 L571.9 622.5 L573.4 625.5 L574.9 628.4 L576.3 631.3 L577.6 634.1 L579.0 637.0 L580.3 639.8 L581.6 642.7 L582.8 645.6 L584.1 648.6 L585.4 651.7 L586.8 654.8 L588.1 658.1 L589.5 661.5 L590.9 665.1 L592.2 668.7 L593.6 672.3 L595.0 676.0 L596.3 679.5 L597.6 683.0 L598.9 686.3 L600.1 689.5 L601.3 692.6 L602.5 695.5 L603.6 698.4 L604.8 701.2 L605.9 704.0 L606.9 706.6 L608.0 709.2 L608.9 711.6 L609.9 714.0 L610.8 716.2 L611.6 718.3 L612.5 720.4 L613.3 722.5 L614.1 724.4 L614.8 726.2 L615.5 727.9 L616.1 729.4 L616.6 730.8 L617.1 732.0 L617.5 732.9 L100.2 732.9 L100.2 433.3 Z" fill="#273dd8"/>
<path d="M100.2 458.2 L100.9 458.2 L101.7 458.3 L102.6 458.4 L103.6 458.6 L104.8 458.7 L106.0 458.8 L107.4 458.8 L108.9 458.9 L110.4 458.8 L112.0 458.7 L113.8 458.5 L115.7 458.2 L117.7 457.9 L119.9 457.5 L122.1 457.1 L124.4 456.7 L126.7 456.2 L128.9 455.7 L131.2 455.2 L133.4 454.7 L135.5 454.1 L137.7 453.5 L139.9 452.9 L142.2 452.3 L144.4 451.6 L146.6 450.9 L148.7 450.2 L150.8 449.5 L152.8 448.8 L154.7 448.0 L156.6 447.3 L158.3 446.5 L160.0 445.7 L161.7 444.9 L163.3 444.0 L164.9 443.2 L166.4 442.4 L167.9 441.6 L169.3 440.8 L170.7 440.0 L172.1 439.3 L173.6 438.5 L175.0 437.7 L176.4 436.9 L177.7 436.2 L179.0 435.4 L180.1 434.8 L181.2 434.2 L182.0 433.7 L182.7 433.3 L100.2 433.3 Z" fill="#254bdb"/>
<path d="M100.2 536.1 L102.2 536.4 L104.7 536.8 L107.7 537.2 L111.0 537.7 L114.6 538.2 L118.4 538.8 L122.3 539.4 L126.1 540.1 L129.8 540.7 L133.4 541.4 L136.8 542.1 L140.3 542.8 L143.9 543.6 L147.5 544.4 L151.1 545.2 L154.7 546.0 L158.2 546.8 L161.6 547.7 L164.9 548.6 L168.1 549.4 L171.1 550.3 L174.1 551.2 L177.0 552.2 L179.8 553.1 L182.6 554.1 L185.2 555.1 L187.8 556.0 L190.2 557.0 L192.5 557.9 L194.7 558.8 L196.8 559.6 L198.6 560.4 L200.3 561.1 L201.9 561.8 L203.3 562.6 L204.8 563.3 L206.2 564.1 L207.6 564.9 L209.1 565.8 L210.8 566.8 L212.4 567.8 L214.1 569.0 L215.8 570.3 L217.5 571.6 L219.2 572.9 L220.9 574.2 L222.7 575.6 L224.4 576.9 L226.3 578.1 L228.1 579.3 L230.0 580.5 L232.1 581.7 L234.2 582.9 L236.4 584.0 L238.6 585.2 L240.7 586.3 L242.8 587.3 L244.7 588.1 L246.5 588.9 L248.1 589.4 L249.5 589.9 L250.6 590.1 L251.5 590.2 L252.4 590.3 L253.1 590.2 L253.8 590.0 L254.6 589.8 L255.4 589.5 L256.3 589.2 L257.5 588.9 L258.7 588.5 L259.9 588.1 L261.3 587.6 L262.6 587.1 L264.0 586.5 L265.5 585.8 L267.1 585.1 L268.7 584.4 L270.4 583.6 L272.1 582.8 L274.0 581.9 L276.0 580.9 L278.0 579.8 L280.2 578.6 L282.4 577.4 L284.6 576.3 L286.9 575.1 L289.1 574.0 L291.3 573.0 L293.5 572.1 L295.6 571.3 L297.7 570.5 L299.8 569.8 L301.9 569.1 L304.0 568.5 L306.1 567.9 L308.2 567.4 L310.4 566.9 L312.6 566.4 L314.8 566.0 L317.1 565.6 L319.5 565.2 L321.8 564.8 L324.2 564.5 L326.7 564.3 L329.1 564.0 L331.6 563.9 L334.0 563.7 L336.4 563.6 L338.8 563.6 L341.2 563.6 L343.6 563.6 L346.0 563.7 L348.4 563.8 L350.8 564.0 L353.2 564.2 L355.7 564.5 L358.1 564.8 L360.5 565.1 L362.9 565.4 L365.2 565.8 L367.6 566.2 L370.0 566.7 L372.3 567.1 L374.7 567.6 L377.1 568.2 L379.5 568.8 L381.9 569.4 L384.4 570.1 L386.9 570.8 L389.4 571.5 L392.0 572.3 L394.7 573.2 L397.4 574.1 L400.0 575.0 L402.8 576.0 L405.5 577.0 L408.2 578.0 L410.9 579.0 L413.6 580.1 L416.2 581.2 L418.9 582.3 L421.6 583.4 L424.2 584.6 L426.9 585.8 L429.6 587.0 L432.3 588.2 L434.9 589.5 L437.6 590.8 L440.2 592.1 L442.9 593.5 L445.5 594.9 L448.2 596.4 L450.8 597.9 L453.5 599.4 L456.1 600.9 L458.7 602.4 L461.4 603.9 L464.0 605.4 L466.7 606.8 L469.4 608.2 L472.1 609.5 L474.9 610.9 L477.7 612.2 L480.5 613.5 L483.3 614.9 L485.9 616.2 L488.5 617.5 L491.0 618.8 L493.4 620.1 L495.6 621.5 L497.7 622.8 L499.7 624.1 L501.7 625.3 L503.5 626.6 L505.3 627.9 L507.1 629.3 L508.8 630.6 L510.4 632.0 L512.0 633.5 L513.6 634.9 L515.1 636.4 L516.5 637.9 L517.9 639.4 L519.2 641.0 L520.5 642.6 L521.8 644.2 L523.0 645.9 L524.2 647.7 L525.4 649.5 L526.6 651.4 L527.7 653.3 L528.8 655.3 L529.9 657.4 L531.0 659.5 L532.0 661.7 L533.0 663.9 L534.1 666.1 L535.1 668.5 L536.1 670.8 L537.1 673.3 L538.1 675.9 L539.1 678.6 L540.1 681.4 L541.1 684.2 L542.0 687.0 L542.9 689.7 L543.8 692.4 L544.6 695.0 L545.4 697.5 L546.1 699.9 L546.7 702.2 L547.3 704.5 L547.9 706.8 L548.4 709.0 L548.9 711.1 L549.4 713.2 L549.8 715.1 L550.3 717.1 L550.7 718.9 L551.2 720.6 L551.7 722.4 L552.2 724.1 L552.6 725.7 L553.1 727.2 L553.5 728.6 L553.9 730.0 L554.2 731.1 L554.5 732.1 L554.7 732.9 L100.2 732.9 Z" fill="#2a2dd5"/>
<path d="M100.2 604.1 L102.1 604.3 L104.6 604.6 L107.5 604.9 L110.8 605.2 L114.3 605.5 L118.0 605.9 L121.9 606.3 L125.8 606.7 L129.6 607.2 L133.4 607.6 L137.2 608.0 L141.1 608.5 L145.3 609.0 L149.5 609.5 L153.8 610.0 L158.0 610.6 L162.2 611.1 L166.1 611.6 L169.9 612.2 L173.4 612.7 L176.7 613.2 L179.8 613.7 L182.7 614.2 L185.5 614.7 L188.2 615.2 L190.8 615.7 L193.3 616.2 L195.6 616.6 L197.9 617.1 L200.1 617.5 L202.1 617.8 L204.0 618.1 L205.7 618.4 L207.3 618.7 L208.8 619.0 L210.3 619.2 L211.7 619.5 L213.1 619.7 L214.6 619.9 L216.1 620.1 L217.6 620.4 L219.0 620.6 L220.3 620.7 L221.6 620.9 L222.9 621.1 L224.3 621.3 L225.7 621.4 L227.3 621.6 L228.9 621.8 L230.8 622.0 L232.7 622.2 L234.7 622.4 L236.8 622.6 L239.0 622.8 L241.3 623.1 L243.7 623.3 L246.2 623.5 L248.9 623.7 L251.7 623.9 L254.8 624.1 L258.1 624.3 L261.6 624.5 L265.3 624.6 L269.1 624.8 L273.1 624.9 L277.2 625.1 L281.3 625.2 L285.4 625.4 L289.5 625.7 L293.5 626.0 L297.4 626.3 L301.4 626.7 L305.4 627.1 L309.4 627.5 L313.4 627.9 L317.4 628.4 L321.5 628.9 L325.5 629.5 L329.5 630.1 L333.5 630.8 L337.5 631.6 L341.5 632.4 L345.5 633.2 L349.5 634.2 L353.5 635.1 L357.5 636.1 L361.5 637.1 L365.5 638.1 L369.5 639.1 L373.5 640.1 L377.6 641.2 L381.7 642.3 L386.0 643.4 L390.2 644.5 L394.4 645.7 L398.5 646.8 L402.5 647.9 L406.4 648.9 L410.1 649.9 L413.6 650.8 L416.8 651.7 L419.9 652.5 L422.9 653.2 L425.7 653.9 L428.4 654.6 L431.0 655.2 L433.5 655.8 L435.8 656.4 L438.1 657.0 L440.2 657.5 L442.2 658.0 L444.0 658.4 L445.7 658.8 L447.2 659.2 L448.6 659.5 L450.0 659.8 L451.4 660.2 L452.8 660.6 L454.4 661.0 L456.0 661.5 L457.8 662.0 L459.7 662.6 L461.7 663.2 L463.7 663.8 L465.8 664.5 L467.8 665.2 L469.7 665.9 L471.5 666.6 L473.2 667.4 L474.7 668.2 L476.0 669.0 L477.2 669.8 L478.3 670.7 L479.4 671.6 L480.3 672.5 L481.1 673.4 L481.9 674.4 L482.7 675.4 L483.4 676.5 L484.0 677.5 L484.7 678.5 L485.2 679.5 L485.7 680.5 L486.1 681.5 L486.5 682.6 L486.8 683.7 L487.2 684.9 L487.5 686.3 L487.7 687.8 L488.0 689.5 L488.3 691.4 L488.6 693.6 L488.8 696.0 L489.0 698.5 L489.2 701.1 L489.3 703.7 L489.5 706.3 L489.6 708.8 L489.8 711.3 L489.9 713.5 L490.0 715.7 L490.1 718.0 L490.2 720.3 L490.3 722.5 L490.4 724.7 L490.5 726.8 L490.6 728.7 L490.6 730.3 L490.7 731.8 L490.7 732.9 L100.2 732.9 Z" fill="#2e18d1"/>
<path d="M100.2 669.5 L102.1 669.3 L104.6 669.1 L107.5 668.9 L110.8 668.6 L114.3 668.3 L118.0 668.0 L121.9 667.7 L125.8 667.4 L129.6 667.1 L133.4 666.8 L137.1 666.6 L141.0 666.3 L145.0 666.1 L149.1 665.9 L153.3 665.6 L157.4 665.4 L161.6 665.1 L165.6 664.8 L169.6 664.5 L173.4 664.2 L177.1 663.8 L180.9 663.3 L184.6 662.8 L188.3 662.3 L191.9 661.7 L195.4 661.2 L198.8 660.7 L202.1 660.2 L205.2 659.8 L208.1 659.4 L210.8 659.0 L213.3 658.7 L215.6 658.4 L217.8 658.1 L219.9 657.9 L221.9 657.7 L223.8 657.5 L225.7 657.3 L227.6 657.1 L229.4 657.0 L231.3 656.8 L233.0 656.7 L234.6 656.6 L236.2 656.5 L237.8 656.4 L239.3 656.3 L240.8 656.3 L242.3 656.3 L243.9 656.4 L245.4 656.4 L247.0 656.5 L248.6 656.6 L250.1 656.8 L251.6 656.9 L253.1 657.1 L254.7 657.3 L256.3 657.6 L257.9 657.9 L259.6 658.3 L261.5 658.8 L263.4 659.4 L265.3 660.0 L267.4 660.6 L269.5 661.3 L271.6 662.1 L273.8 662.9 L276.0 663.8 L278.3 664.7 L280.5 665.7 L282.8 666.8 L285.1 668.0 L287.5 669.3 L289.9 670.7 L292.3 672.2 L294.8 673.7 L297.3 675.2 L299.7 676.8 L302.1 678.4 L304.5 680.0 L306.8 681.5 L309.1 683.1 L311.3 684.6 L313.5 686.2 L315.7 687.8 L317.8 689.4 L319.9 691.1 L322.0 692.7 L324.1 694.3 L326.2 695.9 L328.2 697.5 L330.2 699.1 L332.2 700.8 L334.1 702.4 L336.1 704.1 L338.0 705.7 L339.9 707.3 L341.7 708.9 L343.5 710.5 L345.2 712.0 L346.8 713.5 L348.4 715.0 L350.0 716.5 L351.4 718.0 L352.9 719.4 L354.3 720.8 L355.6 722.2 L356.8 723.5 L358.0 724.7 L359.1 725.8 L360.2 726.9 L361.2 727.8 L362.1 728.6 L362.9 729.4 L363.7 730.1 L364.4 730.7 L365.0 731.3 L365.6 731.8 L366.1 732.2 L366.5 732.6 L366.9 732.9 L100.2 732.9 Z" fill="#3300cc"/>
<path d="M690.8 539.5 L689.8 539.6 L688.8 539.6 L687.7 539.7 L686.7 539.9 L685.6 540.1 L684.5 540.4 L683.4 540.8 L682.3 541.4 L681.2 542.0 L680.2 542.7 L679.1 543.6 L678.0 544.6 L676.9 545.7 L675.8 546.8 L674.7 548.1 L673.6 549.5 L672.5 551.0 L671.5 552.6 L670.4 554.3 L669.5 556.1 L668.6 558.0 L667.7 560.1 L666.8 562.3 L665.9 564.5 L665.1 566.9 L664.3 569.4 L663.6 572.0 L662.8 574.6 L662.1 577.3 L661.5 580.1 L660.9 583.0 L660.3 586.0 L659.7 589.2 L659.1 592.5 L658.6 595.8 L658.2 599.1 L657.7 602.5 L657.3 605.8 L657.0 609.0 L656.7 612.1 L656.4 615.2 L656.2 618.2 L655.9 621.1 L655.8 624.1 L655.6 627.0 L655.6 629.9 L655.5 632.8 L655.5 635.7 L655.5 638.6 L655.6 641.5 L655.7 644.4 L655.9 647.4 L656.0 650.4 L656.2 653.4 L656.5 656.3 L656.8 659.3 L657.2 662.2 L657.6 665.1 L658.2 668.0 L658.8 670.8 L659.5 673.6 L660.3 676.5 L661.2 679.3 L662.2 682.1 L663.2 684.8 L664.3 687.5 L665.5 690.2 L666.7 692.7 L668.1 695.2 L669.5 697.5 L671.0 699.8 L672.6 701.9 L674.2 704.0 L676.0 706.1 L677.8 708.0 L679.7 709.8 L681.7 711.6 L683.8 713.2 L685.9 714.8 L688.2 716.2 L690.5 717.5 L693.1 718.8 L695.8 719.9 L698.5 721.0 L701.3 721.9 L704.2 722.7 L707.0 723.5 L709.7 724.0 L712.4 724.5 L714.8 724.7 L717.2 724.9 L719.5 724.8 L721.7 724.7 L723.9 724.4 L726.0 723.9 L728.1 723.4 L730.2 722.7 L732.2 722.0 L734.2 721.1 L736.2 720.2 L738.2 719.2 L740.2 718.0 L742.2 716.8 L744.2 715.4 L746.1 713.9 L748.0 712.4 L749.8 710.7 L751.6 709.0 L753.3 707.3 L754.9 705.5 L756.4 703.7 L757.8 701.7 L759.2 699.7 L760.5 697.6 L761.8 695.4 L763.0 693.2 L764.1 691.0 L765.1 688.7 L766.0 686.4 L766.9 684.2 L767.6 681.9 L768.3 679.5 L768.9 677.1 L769.4 674.6 L769.8 672.2 L770.2 669.7 L770.4 667.3 L770.6 664.8 L770.8 662.5 L770.9 660.2 L770.9 657.9 L770.8 655.6 L770.6 653.3 L770.4 651.0 L770.1 648.7 L769.7 646.6 L769.3 644.4 L768.9 642.4 L768.6 640.6 L768.2 638.8 L767.9 637.3 L767.6 635.9 L767.3 634.7 L767.0 633.7 L766.7 632.6 L766.3 631.6 L765.9 630.6 L765.4 629.5 L764.9 628.2 L764.2 626.8 L763.5 625.2 L762.6 623.5 L761.7 621.7 L760.8 619.8 L759.7 617.9 L758.7 615.9 L757.6 613.9 L756.5 612.0 L755.4 610.0 L754.3 608.1 L753.3 606.3 L752.2 604.4 L751.1 602.6 L750.0 600.7 L748.9 598.9 L747.8 597.0 L746.6 595.1 L745.4 593.3 L744.2 591.4 L742.9 589.4 L741.5 587.5 L740.2 585.5 L738.7 583.5 L737.3 581.4 L735.8 579.4 L734.3 577.3 L732.8 575.3 L731.3 573.3 L729.7 571.3 L728.2 569.4 L726.6 567.6 L725.0 565.7 L723.4 563.8 L721.7 561.9 L720.0 560.1 L718.4 558.3 L716.7 556.6 L715.1 555.0 L713.6 553.5 L712.2 552.1 L710.8 550.8 L709.5 549.6 L708.2 548.5 L707.0 547.5 L705.8 546.5 L704.6 545.7 L703.5 544.8 L702.3 544.1 L701.2 543.4 L700.2 542.7 L699.1 542.2 L698.2 541.6 L697.2 541.1 L696.3 540.7 L695.4 540.4 L694.5 540.1 L693.6 539.8 L692.7 539.7 L691.8 539.6 L690.8 539.5 Z" fill="#2258de"/>
<path d="M779.2 433.3 L779.7 434.4 L780.2 435.7 L780.9 437.3 L781.6 439.1 L782.4 441.0 L783.3 443.0 L784.1 445.1 L785.0 447.2 L785.9 449.3 L786.7 451.3 L787.5 453.3 L788.3 455.4 L789.1 457.5 L790.0 459.6 L790.8 461.8 L791.7 464.0 L792.5 466.2 L793.4 468.4 L794.3 470.5 L795.2 472.7 L796.1 474.8 L797.1 477.0 L798.0 479.1 L798.9 481.2 L799.9 483.4 L800.9 485.5 L801.8 487.6 L802.8 489.8 L803.8 491.9 L804.8 494.0 L805.8 496.2 L806.9 498.3 L807.9 500.4 L808.9 502.6 L810.0 504.7 L811.0 506.9 L812.1 509.0 L813.2 511.1 L814.3 513.3 L815.5 515.4 L816.7 517.5 L817.9 519.7 L819.1 521.8 L820.3 523.9 L821.5 526.1 L822.8 528.2 L824.1 530.3 L825.5 532.5 L826.9 534.6 L828.3 536.7 L829.8 538.9 L831.4 541.1 L833.1 543.3 L834.8 545.5 L836.5 547.6 L838.3 549.8 L840.0 552.0 L841.8 554.1 L843.5 556.1 L845.2 558.1 L847.0 560.1 L848.8 562.2 L850.6 564.2 L852.5 566.2 L854.4 568.1 L856.2 570.0 L857.9 571.7 L859.5 573.4 L861.0 574.9 L862.3 576.3 L863.4 577.4 L864.3 578.4 L865.1 579.1 L865.7 579.8 L866.3 580.4 L866.9 580.9 L867.4 581.5 L868.1 582.1 L868.9 582.8 L869.8 583.8 L870.9 584.8 L872.1 586.0 L873.4 587.2 L874.8 588.5 L876.2 589.8 L877.6 591.1 L879.0 592.5 L880.3 593.9 L881.5 595.2 L882.6 596.6 L883.5 597.9 L884.4 599.3 L885.3 600.6 L886.1 602.0 L886.8 603.4 L887.5 604.8 L888.1 606.2 L888.6 607.6 L889.1 609.0 L889.5 610.4 L889.9 611.9 L890.1 613.4 L890.3 614.8 L890.3 616.3 L890.4 617.8 L890.4 619.3 L890.4 620.8 L890.3 622.3 L890.3 623.9 L890.3 625.4 L890.2 626.9 L890.2 628.4 L890.1 629.9 L890.1 631.4 L890.0 633.0 L889.9 634.5 L889.8 636.1 L889.6 637.8 L889.5 639.5 L889.3 641.3 L889.1 643.3 L888.9 645.4 L888.6 647.6 L888.4 649.9 L888.1 652.2 L887.8 654.5 L887.6 656.7 L887.3 658.9 L887.1 660.9 L887.0 662.7 L886.9 664.3 L886.8 665.8 L886.7 667.2 L886.7 668.4 L886.6 669.6 L886.6 670.8 L886.6 671.9 L886.7 673.1 L886.7 674.3 L886.8 675.5 L886.8 676.8 L886.9 678.1 L886.9 679.3 L887.0 680.6 L887.1 681.9 L887.3 683.2 L887.4 684.5 L887.6 685.8 L887.8 687.0 L888.0 688.3 L888.3 689.6 L888.6 690.9 L888.9 692.2 L889.2 693.5 L889.6 694.8 L890.0 696.1 L890.4 697.4 L890.8 698.6 L891.3 699.9 L891.8 701.1 L892.3 702.3 L892.8 703.5 L893.3 704.7 L893.8 705.9 L894.4 707.1 L895.0 708.2 L895.6 709.4 L896.3 710.5 L896.9 711.7 L897.6 712.9 L898.4 714.1 L899.2 715.3 L900.0 716.5 L900.8 717.7 L901.7 718.9 L902.6 720.2 L903.5 721.3 L904.4 722.5 L905.3 723.6 L906.2 724.6 L907.1 725.6 L908.2 726.6 L909.3 727.6 L910.4 728.6 L911.5 729.5 L912.6 730.3 L913.6 731.1 L914.5 731.8 L915.2 732.4 L915.8 732.9 L1296.0 732.9 L1296.0 433.3 Z" fill="#273dd8"/>
<path d="M873.1 433.3 L873.2 434.4 L873.2 435.8 L873.3 437.5 L873.4 439.3 L873.5 441.3 L873.5 443.4 L873.6 445.5 L873.8 447.6 L873.9 449.5 L874.0 451.3 L874.1 453.0 L874.3 454.7 L874.4 456.4 L874.6 458.0 L874.7 459.6 L874.9 461.2 L875.1 462.8 L875.3 464.3 L875.5 465.9 L875.8 467.4 L876.1 468.8 L876.4 470.3 L876.7 471.7 L877.1 473.1 L877.5 474.5 L877.8 475.9 L878.2 477.2 L878.7 478.6 L879.1 479.9 L879.5 481.2 L880.0 482.6 L880.5 483.9 L880.9 485.2 L881.4 486.5 L881.9 487.8 L882.4 489.1 L883.0 490.4 L883.6 491.6 L884.2 492.9 L884.9 494.0 L885.6 495.2 L886.4 496.3 L887.1 497.4 L888.0 498.5 L888.8 499.6 L889.7 500.6 L890.6 501.7 L891.5 502.7 L892.5 503.7 L893.4 504.7 L894.4 505.7 L895.3 506.7 L896.3 507.6 L897.3 508.6 L898.3 509.5 L899.3 510.5 L900.4 511.4 L901.6 512.4 L902.8 513.3 L904.1 514.3 L905.5 515.4 L906.9 516.4 L908.4 517.6 L909.9 518.7 L911.5 519.8 L913.2 520.9 L914.9 522.0 L916.6 523.1 L918.3 524.1 L920.0 525.0 L921.7 525.8 L923.4 526.6 L925.2 527.2 L926.9 527.9 L928.7 528.5 L930.5 529.1 L932.5 529.7 L934.5 530.4 L936.5 531.2 L938.8 532.1 L941.1 533.1 L943.6 534.1 L946.2 535.2 L948.9 536.4 L951.6 537.6 L954.4 538.9 L957.2 540.1 L960.0 541.4 L962.7 542.8 L965.4 544.1 L968.1 545.4 L970.8 546.8 L973.4 548.3 L976.1 549.8 L978.8 551.3 L981.5 552.8 L984.1 554.3 L986.8 555.8 L989.5 557.3 L992.1 558.8 L994.8 560.2 L997.5 561.7 L1000.1 563.2 L1002.8 564.7 L1005.5 566.2 L1008.1 567.7 L1010.8 569.1 L1013.5 570.6 L1016.1 572.0 L1018.8 573.4 L1021.5 574.8 L1024.1 576.2 L1026.8 577.6 L1029.5 578.9 L1032.2 580.3 L1034.8 581.6 L1037.5 582.9 L1040.2 584.2 L1042.8 585.5 L1045.5 586.8 L1048.2 588.0 L1050.8 589.3 L1053.5 590.6 L1056.2 591.8 L1058.8 593.0 L1061.5 594.2 L1064.2 595.4 L1066.8 596.6 L1069.5 597.7 L1072.2 598.8 L1074.9 599.8 L1077.6 600.9 L1080.4 601.9 L1083.1 602.9 L1085.9 603.9 L1088.6 604.8 L1091.3 605.7 L1093.9 606.6 L1096.4 607.4 L1098.9 608.1 L1101.2 608.8 L1103.5 609.5 L1105.7 610.1 L1107.8 610.7 L1109.9 611.2 L1111.9 611.7 L1114.0 612.2 L1116.0 612.6 L1118.1 613.1 L1120.2 613.5 L1122.3 613.9 L1124.4 614.2 L1126.5 614.6 L1128.6 615.0 L1130.7 615.3 L1132.8 615.5 L1135.0 615.8 L1137.1 615.9 L1139.3 616.1 L1141.6 616.1 L1143.9 616.1 L1146.2 616.1 L1148.6 616.0 L1151.0 615.8 L1153.5 615.6 L1155.9 615.3 L1158.4 615.1 L1160.8 614.7 L1163.2 614.4 L1165.6 614.0 L1167.8 613.6 L1169.9 613.2 L1171.9 612.8 L1173.9 612.3 L1175.9 611.8 L1178.0 611.3 L1180.2 610.7 L1182.6 609.9 L1185.2 609.1 L1188.1 608.1 L1191.3 607.0 L1194.8 605.8 L1198.5 604.4 L1202.4 603.0 L1206.4 601.4 L1210.5 599.8 L1214.6 598.2 L1218.7 596.6 L1222.8 595.0 L1226.8 593.4 L1230.8 591.9 L1234.9 590.3 L1239.1 588.6 L1243.3 587.0 L1247.4 585.3 L1251.6 583.7 L1255.6 582.0 L1259.5 580.4 L1263.3 578.9 L1266.8 577.4 L1270.3 576.0 L1273.8 574.5 L1277.3 573.0 L1280.7 571.6 L1283.9 570.2 L1287.0 568.8 L1289.7 567.6 L1292.2 566.5 L1294.3 565.6 L1296.0 564.9 L1296.0 433.3 Z" fill="#2a2dd5"/>
<path d="M978.8 732.9 L979.8 732.3 L981.2 731.5 L982.7 730.6 L984.4 729.5 L986.3 728.4 L988.3 727.2 L990.5 725.8 L992.7 724.5 L995.1 723.0 L997.5 721.5 L1000.0 720.0 L1002.7 718.2 L1005.6 716.4 L1008.6 714.5 L1011.6 712.5 L1014.8 710.5 L1017.9 708.5 L1020.9 706.5 L1023.9 704.6 L1026.8 702.9 L1029.6 701.1 L1032.3 699.5 L1035.0 697.8 L1037.7 696.2 L1040.3 694.6 L1043.0 693.0 L1045.6 691.5 L1048.2 689.9 L1050.8 688.4 L1053.5 686.8 L1056.2 685.3 L1058.8 683.8 L1061.5 682.3 L1064.2 680.7 L1066.8 679.3 L1069.5 677.8 L1072.2 676.3 L1074.8 674.9 L1077.5 673.5 L1080.2 672.2 L1082.9 670.8 L1085.6 669.5 L1088.4 668.2 L1091.1 666.9 L1093.9 665.6 L1096.6 664.4 L1099.3 663.2 L1101.9 662.1 L1104.4 661.1 L1106.9 660.2 L1109.2 659.3 L1111.5 658.6 L1113.7 657.9 L1115.8 657.4 L1117.9 656.8 L1119.9 656.3 L1122.0 655.9 L1124.0 655.5 L1126.1 655.2 L1128.2 654.8 L1130.4 654.5 L1132.7 654.3 L1135.0 654.1 L1137.3 653.9 L1139.6 653.8 L1141.8 653.7 L1144.0 653.6 L1146.0 653.6 L1147.9 653.5 L1149.6 653.5 L1151.0 653.5 L1152.1 653.4 L1153.0 653.4 L1153.8 653.4 L1154.5 653.4 L1155.2 653.5 L1156.1 653.6 L1157.1 653.8 L1158.4 654.0 L1160.1 654.3 L1162.1 654.6 L1164.2 655.1 L1166.5 655.5 L1169.0 656.0 L1171.6 656.6 L1174.4 657.2 L1177.3 657.9 L1180.3 658.6 L1183.5 659.4 L1186.8 660.2 L1190.3 661.0 L1193.9 662.0 L1197.8 663.1 L1201.8 664.1 L1206.0 665.3 L1210.2 666.4 L1214.4 667.6 L1218.6 668.7 L1222.8 669.8 L1226.8 670.8 L1230.9 671.8 L1235.0 672.8 L1239.2 673.8 L1243.4 674.8 L1247.5 675.8 L1251.6 676.7 L1255.6 677.6 L1259.5 678.5 L1263.3 679.4 L1266.8 680.2 L1270.3 680.9 L1273.8 681.7 L1277.3 682.4 L1280.7 683.2 L1283.9 683.8 L1287.0 684.5 L1289.7 685.0 L1292.2 685.5 L1294.3 686.0 L1296.0 686.3 L1296.0 732.9 Z" fill="#254bdb"/>
<path d="M381.5 433.3 L382.6 433.9 L383.9 434.6 L385.5 435.4 L387.3 436.4 L389.2 437.4 L391.3 438.5 L393.4 439.8 L395.7 441.1 L397.9 442.5 L400.2 444.0 L402.6 445.6 L405.0 447.4 L407.6 449.2 L410.3 451.2 L413.1 453.2 L415.8 455.3 L418.6 457.4 L421.4 459.6 L424.2 461.8 L426.9 464.0 L429.6 466.3 L432.5 468.8 L435.3 471.3 L438.2 473.9 L441.1 476.5 L443.9 479.1 L446.6 481.6 L449.1 483.9 L451.5 486.1 L453.6 488.0 L455.4 489.7 L456.9 491.0 L458.1 492.2 L459.1 493.1 L460.1 494.0 L461.1 495.0 L462.2 495.9 L463.4 497.1 L464.9 498.4 L466.7 500.1 L468.8 502.0 L471.3 504.2 L474.0 506.6 L476.8 509.2 L479.8 511.8 L482.7 514.5 L485.6 517.1 L488.4 519.6 L491.0 521.9 L493.4 524.1 L495.5 526.0 L497.5 527.8 L499.3 529.4 L501.1 531.0 L502.8 532.5 L504.4 534.0 L506.0 535.5 L507.5 537.0 L509.1 538.5 L510.7 540.1" fill="none" stroke="#0b0b2a" stroke-width="1"/>
<path d="M541.1 572.8 L542.7 574.8 L544.3 576.7 L545.8 578.7 L547.3 580.7 L548.7 582.7 L550.1 584.7 L551.5 586.8 L553.0 589.0 L554.4 591.3 L555.9 593.6 L557.4 596.1 L559.0 598.7 L560.6 601.5 L562.2 604.3 L563.8 607.3 L565.5 610.3 L567.1 613.3 L568.8 616.4 L570.4 619.5 L571.9 622.5 L573.4 625.5 L574.9 628.4 L576.3 631.3 L577.6 634.1 L579.0 637.0 L580.3 639.8 L581.6 642.7 L582.8 645.6 L584.1 648.6 L585.4 651.7 L586.8 654.8 L588.1 658.1 L589.5 661.5 L590.9 665.1 L592.2 668.7 L593.6 672.3 L595.0 676.0 L596.3 679.5 L597.6 683.0 L598.9 686.3 L600.1 689.5 L601.3 692.6 L602.5 695.5 L603.6 698.4 L604.8 701.2 L605.9 704.0 L606.9 706.6 L608.0 709.2 L608.9 711.6 L609.9 714.0 L610.8 716.2 L611.6 718.3 L612.5 720.4 L613.3 722.5 L614.1 724.4 L614.8 726.2 L615.5 727.9 L616.1 729.4 L616.6 730.8 L617.1 732.0 L617.5 732.9" fill="none" stroke="#0b0b2a" stroke-width="1"/>
<path d="M100.2 458.2 L100.9 458.2 L101.7 458.3 L102.6 458.4 L103.6 458.6 L104.8 458.7 L106.0 458.8 L107.4 458.8 L108.9 458.9 L110.4 458.8 L112.0 458.7 L113.8 458.5 L115.7 458.2 L117.7 457.9 L119.9 457.5 L122.1 457.1 L124.4 456.7 L126.7 456.2 L128.9 455.7 L131.2 455.2 L133.4 454.7 L135.5 454.1 L137.7 453.5 L139.9 452.9 L142.2 452.3 L144.4 451.6 L146.6 450.9 L148.7 450.2 L150.8 449.5 L152.8 448.8 L154.7 448.0 L156.6 447.3 L158.3 446.5 L160.0 445.7 L161.7 444.9 L163.3 444.0 L164.9 443.2 L166.4 442.4 L167.9 441.6 L169.3 440.8 L170.7 440.0 L172.1 439.3 L173.6 438.5 L175.0 437.7 L176.4 436.9 L177.7 436.2 L179.0 435.4 L180.1 434.8 L181.2 434.2 L182.0 433.7 L182.7 433.3" fill="none" stroke="#0b0b2a" stroke-width="1"/>
<path d="M100.2 536.1 L102.2 536.4 L104.7 536.8 L107.7 537.2 L111.0 537.7 L114.6 538.2 L118.4 538.8 L122.3 539.4 L126.1 540.1 L129.8 540.7 L133.4 541.4 L136.8 542.1 L140.3 542.8 L143.9 543.6 L147.5 544.4 L151.1 545.2 L154.7 546.0 L158.2 546.8 L161.6 547.7 L164.9 548.6 L168.1 549.4 L171.1 550.3 L174.1 551.2 L177.0 552.2 L179.8 553.1 L182.6 554.1 L185.2 555.1 L187.8 556.0 L190.2 557.0 L192.5 557.9 L194.7 558.8 L196.8 559.6 L198.6 560.4 L200.3 561.1 L201.9 561.8 L203.3 562.6 L204.8 563.3 L206.2 564.1 L207.6 564.9" fill="none" stroke="#0b0b2a" stroke-width="1"/>
<path d="M246.5 588.9 L248.1 589.4 L249.5 589.9 L250.6 590.1 L251.5 590.2 L252.4 590.3 L253.1 590.2 L253.8 590.0 L254.6 589.8 L255.4 589.5 L256.3 589.2 L257.5 588.9 L258.7 588.5 L259.9 588.1 L261.3 587.6 L262.6 587.1 L264.0 586.5 L265.5 585.8 L267.1 585.1 L268.7 584.4 L270.4 583.6 L272.1 582.8 L274.0 581.9 L276.0 580.9 L278.0 579.8 L280.2 578.6 L282.4 577.4 L284.6 576.3 L286.9 575.1 L289.1 574.0 L291.3 573.0 L293.5 572.1 L295.6 571.3 L297.7 570.5 L299.8 569.8 L301.9 569.1 L304.0 568.5 L306.1 567.9 L308.2 567.4 L310.4 566.9 L312.6 566.4 L314.8 566.0 L317.1 565.6 L319.5 565.2 L321.8 564.8 L324.2 564.5 L326.7 564.3 L329.1 564.0 L331.6 563.9 L334.0 563.7 L336.4 563.6 L338.8 563.6 L341.2 563.6 L343.6 563.6 L346.0 563.7 L348.4 563.8 L350.8 564.0 L353.2 564.2 L355.7 564.5 L358.1 564.8 L360.5 565.1 L362.9 565.4 L365.2 565.8 L367.6 566.2 L370.0 566.7 L372.3 567.1 L374.7 567.6 L377.1 568.2 L379.5 568.8 L381.9 569.4 L384.4 570.1 L386.9 570.8 L389.4 571.5 L392.0 572.3 L394.7 573.2 L397.4 574.1 L400.0 575.0 L402.8 576.0 L405.5 577.0 L408.2 578.0 L410.9 579.0 L413.6 580.1 L416.2 581.2 L418.9 582.3 L421.6 583.4 L424.2 584.6 L426.9 585.8 L429.6 587.0 L432.3 588.2 L434.9 589.5 L437.6 590.8 L440.2 592.1 L442.9 593.5 L445.5 594.9 L448.2 596.4 L450.8 597.9 L453.5 599.4 L456.1 600.9 L458.7 602.4 L461.4 603.9 L464.0 605.4 L466.7 606.8 L469.4 608.2 L472.1 609.5 L474.9 610.9 L477.7 612.2 L480.5 613.5 L483.3 614.9 L485.9 616.2 L488.5 617.5 L491.0 618.8 L493.4 620.1 L495.6 621.5 L497.7 622.8 L499.7 624.1 L501.7 625.3 L503.5 626.6 L505.3 627.9 L507.1 629.3 L508.8 630.6 L510.4 632.0 L512.0 633.5 L513.6 634.9 L515.1 636.4 L516.5 637.9 L517.9 639.4 L519.2 641.0 L520.5 642.6 L521.8 644.2 L523.0 645.9 L524.2 647.7 L525.4 649.5 L526.6 651.4 L527.7 653.3 L528.8 655.3 L529.9 657.4 L531.0 659.5 L532.0 661.7 L533.0 663.9 L534.1 666.1 L535.1 668.5 L536.1 670.8 L537.1 673.3 L538.1 675.9 L539.1 678.6 L540.1 681.4 L541.1 684.2 L542.0 687.0 L542.9 689.7 L543.8 692.4 L544.6 695.0 L545.4 697.5 L546.1 699.9 L546.7 702.2 L547.3 704.5 L547.9 706.8 L548.4 709.0 L548.9 711.1 L549.4 713.2 L549.8 715.1 L550.3 717.1 L550.7 718.9 L551.2 720.6 L551.7 722.4 L552.2 724.1 L552.6 725.7 L553.1 727.2 L553.5 728.6 L553.9 730.0 L554.2 731.1 L554.5 732.1 L554.7 732.9" fill="none" stroke="#0b0b2a" stroke-width="1"/>
<path d="M100.2 604.1 L102.1 604.3 L104.6 604.6 L107.5 604.9 L110.8 605.2 L114.3 605.5 L118.0 605.9 L121.9 606.3 L125.8 606.7 L129.6 607.2 L133.4 607.6 L137.2 608.0 L141.1 608.5 L145.3 609.0 L149.5 609.5 L153.8 610.0 L158.0 610.6 L162.2 611.1 L166.1 611.6 L169.9 612.2 L173.4 612.7 L176.7 613.2 L179.8 613.7 L182.7 614.2 L185.5 614.7 L188.2 615.2 L190.8 615.7 L193.3 616.2 L195.6 616.6 L197.9 617.1 L200.1 617.5 L202.1 617.8 L204.0 618.1 L205.7 618.4 L207.3 618.7 L208.8 619.0" fill="none" stroke="#0b0b2a" stroke-width="1"/>
<path d="M254.8 624.1 L258.1 624.3 L261.6 624.5 L265.3 624.6 L269.1 624.8 L273.1 624.9 L277.2 625.1 L281.3 625.2 L285.4 625.4 L289.5 625.7 L293.5 626.0 L297.4 626.3 L301.4 626.7 L305.4 627.1 L309.4 627.5 L313.4 627.9 L317.4 628.4 L321.5 628.9 L325.5 629.5 L329.5 630.1 L333.5 630.8 L337.5 631.6 L341.5 632.4 L345.5 633.2 L349.5 634.2 L353.5 635.1 L357.5 636.1 L361.5 637.1 L365.5 638.1 L369.5 639.1 L373.5 640.1 L377.6 641.2 L381.7 642.3 L386.0 643.4 L390.2 644.5 L394.4 645.7 L398.5 646.8 L402.5 647.9 L406.4 648.9 L410.1 649.9 L413.6 650.8 L416.8 651.7 L419.9 652.5 L422.9 653.2 L425.7 653.9 L428.4 654.6 L431.0 655.2 L433.5 655.8 L435.8 656.4 L438.1 657.0 L440.2 657.5 L442.2 658.0 L444.0 658.4 L445.7 658.8 L447.2 659.2 L448.6 659.5 L450.0 659.8 L451.4 660.2 L452.8 660.6 L454.4 661.0 L456.0 661.5 L457.8 662.0 L459.7 662.6 L461.7 663.2 L463.7 663.8 L465.8 664.5 L467.8 665.2 L469.7 665.9 L471.5 666.6 L473.2 667.4 L474.7 668.2 L476.0 669.0 L477.2 669.8 L478.3 670.7 L479.4 671.6 L480.3 672.5 L481.1 673.4 L481.9 674.4 L482.7 675.4 L483.4 676.5 L484.0 677.5 L484.7 678.5 L485.2 679.5 L485.7 680.5 L486.1 681.5 L486.5 682.6 L486.8 683.7 L487.2 684.9 L487.5 686.3 L487.7 687.8 L488.0 689.5 L488.3 691.4 L488.6 693.6 L488.8 696.0 L489.0 698.5 L489.2 701.1 L489.3 703.7 L489.5 706.3 L489.6 708.8 L489.8 711.3 L489.9 713.5 L490.0 715.7 L490.1 718.0 L490.2 720.3 L490.3 722.5 L490.4 724.7 L490.5 726.8 L490.6 728.7 L490.6 730.3 L490.7 731.8 L490.7 732.9" fill="none" stroke="#0b0b2a" stroke-width="1"/>
<path d="M100.2 669.5 L102.1 669.3 L104.6 669.1 L107.5 668.9 L110.8 668.6 L114.3 668.3 L118.0 668.0 L121.9 667.7 L125.8 667.4 L129.6 667.1 L133.4 666.8 L137.1 666.6 L141.0 666.3 L145.0 666.1 L149.1 665.9 L153.3 665.6 L157.4 665.4 L161.6 665.1 L165.6 664.8 L169.6 664.5 L173.4 664.2 L177.1 663.8 L180.9 663.3 L184.6 662.8 L188.3 662.3 L191.9 661.7 L195.4 661.2 L198.8 660.7 L202.1 660.2 L205.2 659.8 L208.1 659.4 L210.8 659.0 L213.3 658.7 L215.6 658.4 L217.8 658.1 L219.9 657.9 L221.9 657.7 L223.8 657.5 L225.7 657.3 L227.6 657.1 L229.4 657.0 L231.3 656.8 L233.0 656.7 L234.6 656.6 L236.2 656.5 L237.8 656.4 L239.3 656.3 L240.8 656.3 L242.3 656.3 L243.9 656.4 L245.4 656.4 L247.0 656.5 L248.6 656.6 L250.1 656.8 L251.6 656.9 L253.1 657.1 L254.7 657.3 L256.3 657.6 L257.9 657.9 L259.6 658.3 L261.5 658.8 L263.4 659.4 L265.3 660.0 L267.4 660.6 L269.5 661.3 L271.6 662.1 L273.8 662.9 L276.0 663.8 L278.3 664.7 L280.5 665.7 L282.8 666.8 L285.1 668.0 L287.5 669.3 L289.9 670.7 L292.3 672.2 L294.8 673.7 L297.3 675.2 L299.7 676.8 L302.1 678.4 L304.5 680.0 L306.8 681.5 L309.1 683.1 L311.3 684.6 L313.5 686.2 L315.7 687.8 L317.8 689.4 L319.9 691.1 L322.0 692.7 L324.1 694.3 L326.2 695.9 L328.2 697.5 L330.2 699.1 L332.2 700.8 L334.1 702.4 L336.1 704.1 L338.0 705.7 L339.9 707.3 L341.7 708.9 L343.5 710.5 L345.2 712.0 L346.8 713.5 L348.4 715.0 L350.0 716.5 L351.4 718.0 L352.9 719.4 L354.3 720.8 L355.6 722.2 L356.8 723.5 L358.0 724.7 L359.1 725.8 L360.2 726.9 L361.2 727.8 L362.1 728.6 L362.9 729.4 L363.7 730.1 L364.4 730.7 L365.0 731.3 L365.6 731.8 L366.1 732.2 L366.5 732.6 L366.9 732.9" fill="none" stroke="#0b0b2a" stroke-width="1"/>
<path d="M690.8 539.5 L689.8 539.6 L688.8 539.6 L687.7 539.7 L686.7 539.9 L685.6 540.1 L684.5 540.4 L683.4 540.8 L682.3 541.4 L681.2 542.0 L680.2 542.7 L679.1 543.6 L678.0 544.6 L676.9 545.7 L675.8 546.8 L674.7 548.1 L673.6 549.5 L672.5 551.0 L671.5 552.6 L670.4 554.3 L669.5 556.1 L668.6 558.0 L667.7 560.1 L666.8 562.3 L665.9 564.5 L665.1 566.9 L664.3 569.4 L663.6 572.0 L662.8 574.6 L662.1 577.3 L661.5 580.1 L660.9 583.0 L660.3 586.0 L659.7 589.2 L659.1 592.5 L658.6 595.8 L658.2 599.1 L657.7 602.5 L657.3 605.8 L657.0 609.0 L656.7 612.1 L656.4 615.2 L656.2 618.2 L655.9 621.1 L655.8 624.1 L655.6 627.0 L655.6 629.9 L655.5 632.8 L655.5 635.7 L655.5 638.6 L655.6 641.5 L655.7 644.4 L655.9 647.4 L656.0 650.4 L656.2 653.4 L656.5 656.3 L656.8 659.3 L657.2 662.2 L657.6 665.1 L658.2 668.0 L658.8 670.8 L659.5 673.6 L660.3 676.5 L661.2 679.3 L662.2 682.1 L663.2 684.8 L664.3 687.5 L665.5 690.2 L666.7 692.7 L668.1 695.2 L669.5 697.5 L671.0 699.8 L672.6 701.9 L674.2 704.0 L676.0 706.1 L677.8 708.0 L679.7 709.8 L681.7 711.6 L683.8 713.2 L685.9 714.8 L688.2 716.2 L690.5 717.5 L693.1 718.8 L695.8 719.9 L698.5 721.0 L701.3 721.9 L704.2 722.7 L707.0 723.5 L709.7 724.0 L712.4 724.5 L714.8 724.7 L717.2 724.9 L719.5 724.8 L721.7 724.7 L723.9 724.4 L726.0 723.9 L728.1 723.4 L730.2 722.7 L732.2 722.0 L734.2 721.1 L736.2 720.2 L738.2 719.2 L740.2 718.0 L742.2 716.8 L744.2 715.4 L746.1 713.9 L748.0 712.4 L749.8 710.7 L751.6 709.0 L753.3 707.3 L754.9 705.5 L756.4 703.7 L757.8 701.7 L759.2 699.7 L760.5 697.6 L761.8 695.4 L763.0 693.2 L764.1 691.0 L765.1 688.7 L766.0 686.4 L766.9 684.2 L767.6 681.9 L768.3 679.5 L768.9 677.1 L769.4 674.6 L769.8 672.2 L770.2 669.7 L770.4 667.3 L770.6 664.8 L770.8 662.5 L770.9 660.2 L770.9 657.9 L770.8 655.6 L770.6 653.3 L770.4 651.0 L770.1 648.7 L769.7 646.6 L769.3 644.4 L768.9 642.4 L768.6 640.6 L768.2 638.8 L767.9 637.3 L767.6 635.9 L767.3 634.7 L767.0 633.7 L766.7 632.6 L766.3 631.6 L765.9 630.6 L765.4 629.5 L764.9 628.2" fill="none" stroke="#0b0b2a" stroke-width="1"/>
<path d="M742.9 589.4 L741.5 587.5 L740.2 585.5 L738.7 583.5 L737.3 581.4 L735.8 579.4 L734.3 577.3 L732.8 575.3 L731.3 573.3 L729.7 571.3 L728.2 569.4 L726.6 567.6 L725.0 565.7 L723.4 563.8 L721.7 561.9 L720.0 560.1 L718.4 558.3 L716.7 556.6 L715.1 555.0 L713.6 553.5 L712.2 552.1 L710.8 550.8 L709.5 549.6 L708.2 548.5 L707.0 547.5 L705.8 546.5 L704.6 545.7 L703.5 544.8 L702.3 544.1 L701.2 543.4 L700.2 542.7 L699.1 542.2 L698.2 541.6 L697.2 541.1 L696.3 540.7 L695.4 540.4 L694.5 540.1 L693.6 539.8 L692.7 539.7 L691.8 539.6 L690.8 539.5" fill="none" stroke="#0b0b2a" stroke-width="1"/>
<path d="M779.2 433.3 L779.7 434.4 L780.2 435.7 L780.9 437.3 L781.6 439.1 L782.4 441.0 L783.3 443.0 L784.1 445.1 L785.0 447.2 L785.9 449.3 L786.7 451.3 L787.5 453.3 L788.3 455.4 L789.1 457.5 L790.0 459.6 L790.8 461.8 L791.7 464.0 L792.5 466.2 L793.4 468.4 L794.3 470.5 L795.2 472.7 L796.1 474.8 L797.1 477.0 L798.0 479.1 L798.9 481.2 L799.9 483.4 L800.9 485.5 L801.8 487.6 L802.8 489.8 L803.8 491.9 L804.8 494.0 L805.8 496.2 L806.9 498.3 L807.9 500.4 L808.9 502.6 L810.0 504.7 L811.0 506.9 L812.1 509.0 L813.2 511.1 L814.3 513.3 L815.5 515.4 L816.7 517.5 L817.9 519.7 L819.1 521.8 L820.3 523.9 L821.5 526.1 L822.8 528.2 L824.1 530.3 L825.5 532.5 L826.9 534.6 L828.3 536.7 L829.8 538.9 L831.4 541.1 L833.1 543.3 L834.8 545.5 L836.5 547.6 L838.3 549.8 L840.0 552.0 L841.8 554.1 L843.5 556.1 L845.2 558.1 L847.0 560.1 L848.8 562.2 L850.6 564.2 L852.5 566.2 L854.4 568.1 L856.2 570.0 L857.9 571.7 L859.5 573.4 L861.0 574.9" fill="none" stroke="#0b0b2a" stroke-width="1"/>
<path d="M889.5 610.4 L889.9 611.9 L890.1 613.4 L890.3 614.8 L890.3 616.3 L890.4 617.8 L890.4 619.3 L890.4 620.8 L890.3 622.3 L890.3 623.9 L890.3 625.4 L890.2 626.9 L890.2 628.4 L890.1 629.9 L890.1 631.4 L890.0 633.0 L889.9 634.5 L889.8 636.1 L889.6 637.8 L889.5 639.5 L889.3 641.3 L889.1 643.3 L888.9 645.4 L888.6 647.6 L888.4 649.9 L888.1 652.2 L887.8 654.5 L887.6 656.7 L887.3 658.9 L887.1 660.9 L887.0 662.7 L886.9 664.3 L886.8 665.8 L886.7 667.2 L886.7 668.4 L886.6 669.6 L886.6 670.8 L886.6 671.9 L886.7 673.1 L886.7 674.3 L886.8 675.5 L886.8 676.8 L886.9 678.1 L886.9 679.3 L887.0 680.6 L887.1 681.9 L887.3 683.2 L887.4 684.5 L887.6 685.8 L887.8 687.0 L888.0 688.3 L888.3 689.6 L888.6 690.9 L888.9 692.2 L889.2 693.5 L889.6 694.8 L890.0 696.1 L890.4 697.4 L890.8 698.6 L891.3 699.9 L891.8 701.1 L892.3 702.3 L892.8 703.5 L893.3 704.7 L893.8 705.9 L894.4 707.1 L895.0 708.2 L895.6 709.4 L896.3 710.5 L896.9 711.7 L897.6 712.9 L898.4 714.1 L899.2 715.3 L900.0 716.5 L900.8 717.7 L901.7 718.9 L902.6 720.2 L903.5 721.3 L904.4 722.5 L905.3 723.6 L906.2 724.6 L907.1 725.6 L908.2 726.6 L909.3 727.6 L910.4 728.6 L911.5 729.5 L912.6 730.3 L913.6 731.1 L914.5 731.8 L915.2 732.4 L915.8 732.9" fill="none" stroke="#0b0b2a" stroke-width="1"/>
<path d="M873.1 433.3 L873.2 434.4 L873.2 435.8 L873.3 437.5 L873.4 439.3 L873.5 441.3 L873.5 443.4 L873.6 445.5 L873.8 447.6 L873.9 449.5 L874.0 451.3 L874.1 453.0 L874.3 454.7 L874.4 456.4 L874.6 458.0 L874.7 459.6 L874.9 461.2 L875.1 462.8 L875.3 464.3 L875.5 465.9 L875.8 467.4 L876.1 468.8 L876.4 470.3 L876.7 471.7 L877.1 473.1 L877.5 474.5 L877.8 475.9 L878.2 477.2 L878.7 478.6 L879.1 479.9 L879.5 481.2 L880.0 482.6 L880.5 483.9 L880.9 485.2 L881.4 486.5 L881.9 487.8 L882.4 489.1 L883.0 490.4 L883.6 491.6 L884.2 492.9 L884.9 494.0 L885.6 495.2 L886.4 496.3 L887.1 497.4 L888.0 498.5 L888.8 499.6 L889.7 500.6 L890.6 501.7 L891.5 502.7 L892.5 503.7 L893.4 504.7 L894.4 505.7 L895.3 506.7 L896.3 507.6 L897.3 508.6 L898.3 509.5 L899.3 510.5 L900.4 511.4 L901.6 512.4 L902.8 513.3 L904.1 514.3 L905.5 515.4 L906.9 516.4 L908.4 517.6 L909.9 518.7 L911.5 519.8 L913.2 520.9 L914.9 522.0 L916.6 523.1 L918.3 524.1 L920.0 525.0 L921.7 525.8 L923.4 526.6 L925.2 527.2 L926.9 527.9 L928.7 528.5 L930.5 529.1 L932.5 529.7 L934.5 530.4 L936.5 531.2 L938.8 532.1 L941.1 533.1 L943.6 534.1 L946.2 535.2 L948.9 536.4 L951.6 537.6 L954.4 538.9 L957.2 540.1 L960.0 541.4 L962.7 542.8 L965.4 544.1 L968.1 545.4 L970.8 546.8 L973.4 548.3 L976.1 549.8 L978.8 551.3 L981.5 552.8 L984.1 554.3 L986.8 555.8 L989.5 557.3 L992.1 558.8 L994.8 560.2 L997.5 561.7 L1000.1 563.2 L1002.8 564.7 L1005.5 566.2 L1008.1 567.7 L1010.8 569.1 L1013.5 570.6 L1016.1 572.0 L1018.8 573.4 L1021.5 574.8 L1024.1 576.2 L1026.8 577.6 L1029.5 578.9 L1032.2 580.3 L1034.8 581.6 L1037.5 582.9 L1040.2 584.2 L1042.8 585.5 L1045.5 586.8 L1048.2 588.0 L1050.8 589.3 L1053.5 590.6 L1056.2 591.8 L1058.8 593.0 L1061.5 594.2 L1064.2 595.4 L1066.8 596.6 L1069.5 597.7 L1072.2 598.8 L1074.9 599.8 L1077.6 600.9 L1080.4 601.9 L1083.1 602.9 L1085.9 603.9 L1088.6 604.8 L1091.3 605.7 L1093.9 606.6 L1096.4 607.4 L1098.9 608.1 L1101.2 608.8 L1103.5 609.5 L1105.7 610.1 L1107.8 610.7 L1109.9 611.2 L1111.9 611.7 L1114.0 612.2 L1116.0 612.6 L1118.1 613.1 L1120.2 613.5 L1122.3 613.9 L1124.4 614.2 L1126.5 614.6 L1128.6 615.0 L1130.7 615.3 L1132.8 615.5 L1135.0 615.8 L1137.1 615.9 L1139.3 616.1 L1141.6 616.1" fill="none" stroke="#0b0b2a" stroke-width="1"/>
<path d="M1188.1 608.1 L1191.3 607.0 L1194.8 605.8 L1198.5 604.4 L1202.4 603.0 L1206.4 601.4 L1210.5 599.8 L1214.6 598.2 L1218.7 596.6 L1222.8 595.0 L1226.8 593.4 L1230.8 591.9 L1234.9 590.3 L1239.1 588.6 L1243.3 587.0 L1247.4 585.3 L1251.6 583.7 L1255.6 582.0 L1259.5 580.4 L1263.3 578.9 L1266.8 577.4 L1270.3 576.0 L1273.8 574.5 L1277.3 573.0 L1280.7 571.6 L1283.9 570.2 L1287.0 568.8 L1289.7 567.6 L1292.2 566.5 L1294.3 565.6 L1296.0 564.9" fill="none" stroke="#0b0b2a" stroke-width="1"/>
<path d="M978.8 732.9 L979.8 732.3 L981.2 731.5 L982.7 730.6 L984.4 729.5 L986.3 728.4 L988.3 727.2 L990.5 725.8 L992.7 724.5 L995.1 723.0 L997.5 721.5 L1000.0 720.0 L1002.7 718.2 L1005.6 716.4 L1008.6 714.5 L1011.6 712.5 L1014.8 710.5 L1017.9 708.5 L1020.9 706.5 L1023.9 704.6 L1026.8 702.9 L1029.6 701.1 L1032.3 699.5 L1035.0 697.8 L1037.7 696.2 L1040.3 694.6 L1043.0 693.0 L1045.6 691.5 L1048.2 689.9 L1050.8 688.4 L1053.5 686.8 L1056.2 685.3 L1058.8 683.8 L1061.5 682.3 L1064.2 680.7 L1066.8 679.3 L1069.5 677.8 L1072.2 676.3 L1074.8 674.9 L1077.5 673.5 L1080.2 672.2 L1082.9 670.8 L1085.6 669.5 L1088.4 668.2 L1091.1 666.9 L1093.9 665.6 L1096.6 664.4 L1099.3 663.2 L1101.9 662.1 L1104.4 661.1 L1106.9 660.2 L1109.2 659.3 L1111.5 658.6 L1113.7 657.9 L1115.8 657.4 L1117.9 656.8 L1119.9 656.3 L1122.0 655.9 L1124.0 655.5 L1126.1 655.2 L1128.2 654.8 L1130.4 654.5 L1132.7 654.3 L1135.0 654.1 L1137.3 653.9 L1139.6 653.8 L1141.8 653.7 L1144.0 653.6 L1146.0 653.6 L1147.9 653.5 L1149.6 653.5 L1151.0 653.5 L1152.1 653.4 L1153.0 653.4 L1153.8 653.4 L1154.5 653.4 L1155.2 653.5 L1156.1 653.6 L1157.1 653.8 L1158.4 654.0 L1160.1 654.3 L1162.1 654.6 L1164.2 655.1 L1166.5 655.5 L1169.0 656.0 L1171.6 656.6 L1174.4 657.2 L1177.3 657.9 L1180.3 658.6 L1183.5 659.4 L1186.8 660.2 L1190.3 661.0 L1193.9 662.0 L1197.8 663.1 L1201.8 664.1 L1206.0 665.3 L1210.2 666.4 L1214.4 667.6 L1218.6 668.7 L1222.8 669.8 L1226.8 670.8 L1230.9 671.8 L1235.0 672.8 L1239.2 673.8 L1243.4 674.8 L1247.5 675.8 L1251.6 676.7 L1255.6 677.6 L1259.5 678.5 L1263.3 679.4 L1266.8 680.2 L1270.3 680.9 L1273.8 681.7 L1277.3 682.4 L1280.7 683.2 L1283.9 683.8 L1287.0 684.5 L1289.7 685.0 L1292.2 685.5 L1294.3 686.0 L1296.0 686.3" fill="none" stroke="#0b0b2a" stroke-width="1"/>
<text transform="translate(525.9 556.6) rotate(47.0) scale(0.97 1)" x="0" y="10.2" text-anchor="middle" font-family="'Liberation Sans', sans-serif" font-size="28.5" fill="#05051a">17</text>
<text transform="translate(226.8 578.8) rotate(33.0) scale(0.97 1)" x="0" y="10.2" text-anchor="middle" font-family="'Liberation Sans', sans-serif" font-size="28.5" fill="#05051a">18</text>
<text transform="translate(230.8 622.3) rotate(8.0) scale(0.97 1)" x="0" y="10.2" text-anchor="middle" font-family="'Liberation Sans', sans-serif" font-size="28.5" fill="#05051a">19</text>
<text transform="translate(752.2 609.5) rotate(62.0) scale(0.97 1)" x="0" y="10.2" text-anchor="middle" font-family="'Liberation Sans', sans-serif" font-size="28.5" fill="#05051a">16</text>
<text transform="translate(875.3 593.2) rotate(47.0) scale(0.97 1)" x="0" y="10.2" text-anchor="middle" font-family="'Liberation Sans', sans-serif" font-size="28.5" fill="#05051a">17</text>
<text transform="translate(1165.6 612.7) rotate(-9.0) scale(0.97 1)" x="0" y="10.2" text-anchor="middle" font-family="'Liberation Sans', sans-serif" font-size="28.5" fill="#05051a">18</text>
<line x1="100.2" y1="732.9" x2="100.2" y2="718.4" stroke="#0b0b2a" stroke-width="1"/>
<text transform="translate(99.9 765.8) scale(0.97 1)" text-anchor="middle" font-family="'Liberation Sans', sans-serif" font-size="29.5" fill="#000">0</text>
<line x1="249.7" y1="732.9" x2="249.7" y2="718.4" stroke="#0b0b2a" stroke-width="1"/>
<text transform="translate(249.4 765.8) scale(0.97 1)" text-anchor="middle" font-family="'Liberation Sans', sans-serif" font-size="29.5" fill="#000">10</text>
<line x1="399.1" y1="732.9" x2="399.1" y2="718.4" stroke="#0b0b2a" stroke-width="1"/>
<text transform="translate(398.8 765.8) scale(0.97 1)" text-anchor="middle" font-family="'Liberation Sans', sans-serif" font-size="29.5" fill="#000">20</text>
<line x1="548.6" y1="732.9" x2="548.6" y2="718.4" stroke="#0b0b2a" stroke-width="1"/>
<text transform="translate(548.3 765.8) scale(0.97 1)" text-anchor="middle" font-family="'Liberation Sans', sans-serif" font-size="29.5" fill="#000">30</text>
<line x1="698.1" y1="732.9" x2="698.1" y2="718.4" stroke="#0b0b2a" stroke-width="1"/>
<text transform="translate(697.8 765.8) scale(0.97 1)" text-anchor="middle" font-family="'Liberation Sans', sans-serif" font-size="29.5" fill="#000">40</text>
<line x1="847.6" y1="732.9" x2="847.6" y2="718.4" stroke="#0b0b2a" stroke-width="1"/>
<text transform="translate(847.3 765.8) scale(0.97 1)" text-anchor="middle" font-family="'Liberation Sans', sans-serif" font-size="29.5" fill="#000">50</text>
<line x1="997.1" y1="732.9" x2="997.1" y2="718.4" stroke="#0b0b2a" stroke-width="1"/>
<text transform="translate(996.8 765.8) scale(0.97 1)" text-anchor="middle" font-family="'Liberation Sans', sans-serif" font-size="29.5" fill="#000">60</text>
<line x1="1146.5" y1="732.9" x2="1146.5" y2="718.4" stroke="#0b0b2a" stroke-width="1"/>
<text transform="translate(1146.2 765.8) scale(0.97 1)" text-anchor="middle" font-family="'Liberation Sans', sans-serif" font-size="29.5" fill="#000">70</text>
<line x1="1296.0" y1="732.9" x2="1296.0" y2="718.4" stroke="#0b0b2a" stroke-width="1"/>
<text transform="translate(1295.7 765.8) scale(0.97 1)" text-anchor="middle" font-family="'Liberation Sans', sans-serif" font-size="29.5" fill="#000">80</text>
<line x1="100.2" y1="732.9" x2="115.2" y2="732.9" stroke="#0b0b2a" stroke-width="1"/>
<text transform="translate(96.8 743.5) scale(0.97 1)" text-anchor="end" font-family="'Liberation Sans', sans-serif" font-size="29.5" fill="#000">0</text>
<line x1="100.2" y1="658.0" x2="115.2" y2="658.0" stroke="#0b0b2a" stroke-width="1"/>
<text transform="translate(96.8 668.6) scale(0.97 1)" text-anchor="end" font-family="'Liberation Sans', sans-serif" font-size="29.5" fill="#000">5</text>
<line x1="100.2" y1="583.1" x2="115.2" y2="583.1" stroke="#0b0b2a" stroke-width="1"/>
<text transform="translate(96.8 593.7) scale(0.97 1)" text-anchor="end" font-family="'Liberation Sans', sans-serif" font-size="29.5" fill="#000">10</text>
<line x1="100.2" y1="508.2" x2="115.2" y2="508.2" stroke="#0b0b2a" stroke-width="1"/>
<text transform="translate(96.8 518.8) scale(0.97 1)" text-anchor="end" font-family="'Liberation Sans', sans-serif" font-size="29.5" fill="#000">15</text>
<line x1="100.2" y1="433.3" x2="115.2" y2="433.3" stroke="#0b0b2a" stroke-width="1"/>
<text transform="translate(96.8 443.9) scale(0.97 1)" text-anchor="end" font-family="'Liberation Sans', sans-serif" font-size="29.5" fill="#000">20</text>
<path d="M100.2 433.3 V732.9 M1296.0 433.3 V732.9" fill="none" stroke="#0c0c50" stroke-width="1"/>
<path d="M99.7 433.3 H1296.5 M99.7 732.9 H1296.5" fill="none" stroke="#080838" stroke-width="1.4"/>
<text x="123.6" y="475.5" font-family="'Liberation Serif', serif" font-size="43" fill="#05051a">5h</text>
<text x="603.7" y="800.8" font-family="'Liberation Serif', serif" font-size="38.8" fill="#000">Length(cm<tspan dy="-4">)</tspan></text>
<text transform="translate(57.0 586.6) rotate(-90) scale(0.955 1)" text-anchor="middle" font-family="'Liberation Serif', serif" font-size="40.0" fill="#000">Hight <tspan dy="-4.5">(</tspan><tspan dy="4.5">cm</tspan><tspan dy="-4.5">)</tspan></text>
</g>
<g>
<rect x="108.1" y="841.7" width="1196.1" height="299.2" fill="#254cdb"/>
</g>
<g>
<rect x="108.1" y="841.7" width="1196.1" height="299.2" fill="none"/>
<path d="M108.1 916.7 L110.2 917.8 L112.8 919.1 L115.9 920.6 L119.4 922.3 L123.2 924.2 L127.2 926.2 L131.3 928.2 L135.4 930.2 L139.5 932.2 L143.4 934.1 L147.2 935.9 L151.2 937.8 L155.2 939.7 L159.3 941.6 L163.4 943.5 L167.5 945.4 L171.6 947.3 L175.7 949.2 L179.6 951.0 L183.4 952.7 L187.1 954.5 L190.8 956.2 L194.5 958.0 L198.2 959.7 L201.7 961.4 L205.2 963.0 L208.6 964.6 L211.9 966.1 L215.1 967.5 L218.1 968.8 L221.0 970.0 L223.8 971.1 L226.5 972.1 L229.0 973.1 L231.5 974.0 L233.9 974.8 L236.1 975.6 L238.2 976.3 L240.2 977.0 L242.1 977.6 L243.8 978.1 L245.3 978.6 L246.6 978.9 L247.8 979.3 L248.9 979.5 L250.0 979.7 L251.0 979.9 L252.0 980.1 L253.0 980.2 L254.1 980.2 L255.2 980.3 L256.2 980.4 L257.1 980.4 L258.0 980.4 L258.9 980.4 L259.8 980.3 L260.8 980.1 L262.0 979.8 L263.3 979.4 L264.8 978.9 L266.5 978.2 L268.4 977.4 L270.5 976.5 L272.7 975.5 L275.0 974.4 L277.4 973.2 L279.7 972.0 L281.9 970.7 L284.1 969.5 L286.1 968.2 L288.0 967.0 L289.9 965.7 L291.7 964.3 L293.4 963.0 L295.1 961.6 L296.8 960.1 L298.5 958.7 L300.2 957.2 L301.8 955.6 L303.5 954.1 L305.1 952.5 L306.8 950.9 L308.5 949.2 L310.1 947.6 L311.7 945.9 L313.3 944.1 L314.9 942.3 L316.5 940.5 L318.0 938.6 L319.5 936.7 L320.9 934.8 L322.4 932.8 L323.8 930.7 L325.1 928.6 L326.5 926.5 L327.8 924.3 L329.1 922.1 L330.4 919.9 L331.6 917.7 L332.8 915.4 L334.0 913.1 L335.2 910.8 L336.3 908.5 L337.4 906.1 L338.4 903.7 L339.5 901.3 L340.5 898.9 L341.5 896.4 L342.5 893.9 L343.5 891.4 L344.5 888.8 L345.5 886.1 L346.4 883.4 L347.4 880.7 L348.3 878.0 L349.3 875.2 L350.2 872.5 L351.1 869.8 L352.0 867.2 L352.8 864.7 L353.7 862.1 L354.7 859.5 L355.6 856.8 L356.5 854.1 L357.4 851.5 L358.3 849.1 L359.1 846.8 L359.8 844.8 L360.4 843.1 L360.8 841.7 L108.1 841.7 Z" fill="#1e6be1"/>
<path d="M108.1 1009.3 L110.2 1010.0 L112.8 1010.9 L115.9 1011.9 L119.4 1013.0 L123.2 1014.2 L127.2 1015.5 L131.3 1016.9 L135.4 1018.2 L139.5 1019.5 L143.4 1020.8 L147.2 1022.1 L151.1 1023.4 L155.0 1024.8 L159.0 1026.2 L163.1 1027.6 L167.2 1029.0 L171.2 1030.4 L175.3 1031.7 L179.4 1033.0 L183.4 1034.1 L187.4 1035.3 L191.4 1036.3 L195.4 1037.4 L199.4 1038.4 L203.4 1039.3 L207.4 1040.2 L211.4 1041.1 L215.4 1041.9 L219.4 1042.7 L223.4 1043.5 L227.4 1044.2 L231.4 1044.8 L235.4 1045.5 L239.4 1046.0 L243.4 1046.6 L247.4 1047.1 L251.4 1047.5 L255.4 1048.0 L259.4 1048.4 L263.4 1048.8 L267.5 1049.2 L271.7 1049.6 L275.9 1049.9 L280.1 1050.2 L284.3 1050.4 L288.4 1050.7 L292.4 1050.9 L296.3 1051.1 L300.0 1051.3 L303.5 1051.5 L306.7 1051.6 L309.7 1051.8 L312.5 1051.9 L315.1 1052.0 L317.7 1052.0 L320.1 1052.1 L322.6 1052.1 L325.0 1052.1 L327.6 1052.1 L330.2 1052.0 L332.8 1052.0 L335.5 1051.9 L338.2 1051.8 L340.8 1051.6 L343.5 1051.5 L346.2 1051.3 L348.8 1051.1 L351.5 1050.9 L354.2 1050.7 L356.8 1050.4 L359.5 1050.1 L362.2 1049.8 L364.8 1049.4 L367.5 1049.1 L370.2 1048.7 L372.9 1048.3 L375.5 1047.9 L378.2 1047.5 L380.9 1047.1 L383.5 1046.7 L386.2 1046.3 L388.9 1045.9 L391.5 1045.5 L394.2 1045.1 L396.9 1044.7 L399.5 1044.3 L402.2 1043.9 L404.9 1043.6 L407.5 1043.3 L410.2 1042.9 L412.9 1042.6 L415.5 1042.3 L418.1 1042.0 L420.7 1041.8 L423.4 1041.5 L426.0 1041.3 L428.7 1041.1 L431.4 1040.9 L434.1 1040.8 L436.9 1040.8 L439.8 1040.8 L442.7 1040.9 L445.7 1040.9 L448.7 1041.0 L451.8 1041.2 L454.8 1041.4 L457.9 1041.7 L460.9 1042.0 L463.8 1042.4 L466.7 1042.9 L469.5 1043.5 L472.3 1044.2 L475.2 1044.9 L478.0 1045.7 L480.7 1046.5 L483.4 1047.4 L486.0 1048.4 L488.6 1049.4 L491.0 1050.4 L493.4 1051.5 L495.6 1052.6 L497.7 1053.8 L499.7 1055.0 L501.7 1056.2 L503.5 1057.5 L505.3 1058.9 L507.1 1060.3 L508.8 1061.7 L510.4 1063.3 L512.0 1064.8 L513.6 1066.5 L515.1 1068.2 L516.5 1070.0 L517.9 1071.8 L519.2 1073.7 L520.5 1075.6 L521.8 1077.5 L523.0 1079.5 L524.2 1081.5 L525.4 1083.5 L526.6 1085.5 L527.7 1087.6 L528.9 1089.7 L530.0 1091.8 L531.1 1094.0 L532.1 1096.2 L533.1 1098.4 L534.1 1100.5 L535.1 1102.7 L536.1 1104.8 L537.0 1107.0 L537.9 1109.2 L538.7 1111.5 L539.6 1113.7 L540.4 1115.9 L541.1 1118.1 L541.9 1120.3 L542.6 1122.4 L543.4 1124.3 L544.1 1126.2 L544.8 1128.0 L545.5 1129.8 L546.2 1131.6 L546.9 1133.3 L547.5 1134.9 L548.1 1136.4 L548.7 1137.8 L549.2 1139.0 L549.6 1140.1 L549.9 1140.9 L108.1 1140.9 Z" fill="#2a2ed5"/>
<path d="M648.1 841.7 L648.4 842.9 L648.8 844.4 L649.3 846.3 L649.8 848.3 L650.3 850.5 L650.9 852.8 L651.5 855.2 L652.2 857.6 L652.8 859.9 L653.5 862.0 L654.2 864.1 L654.9 866.3 L655.6 868.4 L656.4 870.6 L657.1 872.8 L658.0 875.0 L658.8 877.1 L659.7 879.3 L660.6 881.3 L661.5 883.4 L662.4 885.4 L663.4 887.3 L664.3 889.3 L665.3 891.2 L666.3 893.1 L667.4 895.0 L668.5 896.8 L669.6 898.6 L670.9 900.4 L672.2 902.0 L673.5 903.7 L675.0 905.3 L676.5 906.9 L678.0 908.5 L679.7 910.0 L681.3 911.5 L683.0 912.9 L684.7 914.2 L686.4 915.5 L688.2 916.7 L689.9 917.9 L691.7 918.9 L693.5 920.0 L695.3 920.9 L697.2 921.8 L699.1 922.7 L701.0 923.4 L702.9 924.2 L704.9 924.9 L706.8 925.5 L708.8 926.1 L710.9 926.7 L712.9 927.2 L714.9 927.7 L717.0 928.1 L719.1 928.4 L721.3 928.7 L723.5 929.0 L725.8 929.1 L728.2 929.3 L730.6 929.3 L733.1 929.3 L735.6 929.3 L738.2 929.2 L740.9 929.0 L743.6 928.8 L746.3 928.5 L749.1 928.2 L752.0 927.8 L754.9 927.4 L757.8 926.9 L760.8 926.4 L763.8 925.8 L766.9 925.2 L770.1 924.6 L773.3 923.8 L776.6 923.0 L779.9 922.2 L783.4 921.2 L786.9 920.2 L790.6 919.0 L794.6 917.7 L798.7 916.3 L802.9 914.8 L807.1 913.2 L811.3 911.7 L815.5 910.1 L819.4 908.6 L823.2 907.3 L826.7 906.1 L829.9 904.9 L832.9 903.9 L835.7 902.9 L838.3 901.9 L840.8 901.0 L843.3 900.1 L845.8 899.3 L848.2 898.6 L850.8 897.9 L853.4 897.2 L856.1 896.6 L858.8 896.1 L861.5 895.6 L864.3 895.2 L867.0 894.8 L869.8 894.4 L872.4 894.1 L875.1 893.9 L877.6 893.7 L880.1 893.5 L882.4 893.4 L884.7 893.4 L887.0 893.4 L889.2 893.5 L891.4 893.6 L893.5 893.7 L895.6 893.9 L897.6 894.1 L899.5 894.4 L901.4 894.6 L903.2 894.8 L905.0 895.1 L906.7 895.5 L908.4 895.8 L910.0 896.2 L911.6 896.6 L913.1 897.0 L914.6 897.4 L916.0 897.7 L917.4 898.0 L918.8 898.4 L920.0 898.7 L921.2 899.1 L922.4 899.4 L923.5 899.7 L924.6 900.0 L925.7 900.3 L926.9 900.5 L928.1 900.6 L929.4 900.7 L930.7 900.7 L932.1 900.6 L933.4 900.4 L934.8 900.2 L936.2 899.9 L937.6 899.6 L939.1 899.3 L940.7 899.0 L942.3 898.8 L944.1 898.6 L946.0 898.4 L948.0 898.2 L950.1 898.0 L952.3 897.8 L954.5 897.6 L956.8 897.4 L959.0 897.3 L961.2 897.2 L963.4 897.2 L965.4 897.2 L967.4 897.4 L969.4 897.5 L971.3 897.7 L973.2 898.0 L975.1 898.3 L977.0 898.7 L978.8 899.1 L980.6 899.6 L982.4 900.1 L984.1 900.7 L985.9 901.4 L987.6 902.1 L989.3 903.0 L991.0 903.8 L992.6 904.8 L994.2 905.7 L995.8 906.8 L997.3 907.8 L998.8 908.9 L1000.1 910.1 L1001.4 911.2 L1002.7 912.4 L1003.9 913.7 L1005.0 915.0 L1006.1 916.3 L1007.1 917.7 L1008.1 919.1 L1009.1 920.5 L1010.0 921.9 L1010.8 923.4 L1011.6 924.9 L1012.4 926.5 L1013.1 928.2 L1013.7 929.9 L1014.3 931.7 L1014.9 933.4 L1015.4 935.0 L1015.9 936.6 L1016.3 938.1 L1016.7 939.4 L1017.0 940.6 L1017.3 941.5 L1017.5 942.3 L1017.7 943.0 L1017.8 943.7 L1017.9 944.4 L1017.9 945.2 L1018.0 946.1 L1018.0 947.3 L1018.0 948.7 L1018.0 950.5 L1018.0 952.4 L1017.9 954.5 L1017.9 956.8 L1017.8 959.2 L1017.7 961.6 L1017.5 964.1 L1017.4 966.6 L1017.2 969.0 L1016.9 971.4 L1016.7 973.8 L1016.5 976.1 L1016.2 978.5 L1015.9 980.9 L1015.6 983.4 L1015.3 985.8 L1014.9 988.2 L1014.5 990.6 L1014.0 993.0 L1013.5 995.4 L1012.9 997.8 L1012.3 1000.2 L1011.6 1002.6 L1010.9 1004.9 L1010.1 1007.3 L1009.3 1009.7 L1008.4 1012.1 L1007.5 1014.5 L1006.5 1016.9 L1005.5 1019.5 L1004.4 1022.0 L1003.2 1024.7 L1001.9 1027.4 L1000.6 1030.1 L999.3 1032.8 L997.9 1035.5 L996.5 1038.3 L995.1 1040.9 L993.6 1043.6 L992.1 1046.1 L990.6 1048.7 L989.1 1051.1 L987.6 1053.5 L986.0 1055.9 L984.5 1058.3 L982.8 1060.7 L981.2 1063.0 L979.5 1065.4 L977.8 1067.8 L976.1 1070.2 L974.3 1072.6 L972.5 1075.0 L970.5 1077.4 L968.6 1079.9 L966.6 1082.3 L964.7 1084.8 L962.7 1087.2 L960.9 1089.5 L959.1 1091.9 L957.4 1094.2 L955.9 1096.4 L954.3 1098.7 L952.9 1100.9 L951.5 1103.2 L950.1 1105.4 L948.8 1107.5 L947.5 1109.6 L946.3 1111.6 L945.2 1113.6 L944.1 1115.5 L943.1 1117.4 L942.1 1119.2 L941.2 1120.9 L940.3 1122.6 L939.5 1124.3 L938.7 1125.9 L938.0 1127.4 L937.3 1128.8 L936.7 1130.2 L936.1 1131.5 L935.5 1132.8 L935.1 1134.0 L934.6 1135.1 L934.2 1136.2 L933.9 1137.2 L933.5 1138.1 L933.3 1139.0 L933.0 1139.7 L932.8 1140.4 L932.6 1140.9 L1304.2 1140.9 L1304.2 841.7 Z" fill="#1e6be1"/>
<path d="M511.5 904.7 L511.5 905.9 L511.4 907.0 L511.3 908.2 L511.2 909.4 L511.0 910.5 L510.8 911.7 L510.5 912.9 L510.2 914.0 L509.9 915.1 L509.5 916.2 L509.1 917.2 L508.7 918.3 L508.2 919.3 L507.7 920.3 L507.1 921.3 L506.5 922.3 L505.9 923.2 L505.2 924.1 L504.6 925.0 L503.9 925.8 L503.1 926.6 L502.4 927.4 L501.6 928.2 L500.7 928.9 L499.9 929.6 L499.0 930.2 L498.1 930.8 L497.2 931.4 L496.3 931.9 L495.4 932.3 L494.4 932.7 L493.5 933.1 L492.5 933.5 L491.5 933.8 L490.5 934.0 L489.4 934.2 L488.4 934.4 L487.4 934.5 L486.4 934.6 L485.4 934.6 L484.4 934.6 L483.3 934.5 L482.3 934.4 L481.3 934.2 L480.3 934.0 L479.2 933.8 L478.2 933.5 L477.3 933.1 L476.3 932.7 L475.4 932.3 L474.4 931.9 L473.5 931.4 L472.6 930.8 L471.7 930.2 L470.8 929.6 L470.0 928.9 L469.2 928.2 L468.4 927.4 L467.6 926.6 L466.9 925.8 L466.2 925.0 L465.5 924.1 L464.8 923.2 L464.2 922.3 L463.6 921.3 L463.1 920.3 L462.5 919.3 L462.1 918.3 L461.6 917.2 L461.2 916.2 L460.8 915.1 L460.5 914.0 L460.2 912.9 L460.0 911.7 L459.7 910.5 L459.5 909.4 L459.4 908.2 L459.3 907.0 L459.2 905.9 L459.2 904.7 L459.2 903.6 L459.3 902.4 L459.4 901.2 L459.5 900.1 L459.7 898.9 L460.0 897.7 L460.2 896.6 L460.5 895.5 L460.8 894.4 L461.2 893.3 L461.6 892.2 L462.1 891.2 L462.5 890.1 L463.1 889.1 L463.6 888.1 L464.2 887.1 L464.8 886.2 L465.5 885.3 L466.2 884.4 L466.9 883.6 L467.6 882.8 L468.4 882.0 L469.2 881.3 L470.0 880.6 L470.8 879.9 L471.7 879.2 L472.6 878.6 L473.5 878.1 L474.4 877.6 L475.4 877.1 L476.3 876.7 L477.3 876.3 L478.2 876.0 L479.2 875.7 L480.3 875.4 L481.3 875.2 L482.3 875.0 L483.3 874.9 L484.4 874.9 L485.4 874.8 L486.4 874.9 L487.4 874.9 L488.4 875.0 L489.4 875.2 L490.5 875.4 L491.5 875.7 L492.5 876.0 L493.5 876.3 L494.4 876.7 L495.4 877.1 L496.3 877.6 L497.2 878.1 L498.1 878.6 L499.0 879.2 L499.9 879.9 L500.7 880.6 L501.6 881.3 L502.4 882.0 L503.1 882.8 L503.9 883.6 L504.6 884.4 L505.2 885.3 L505.9 886.2 L506.5 887.1 L507.1 888.1 L507.7 889.1 L508.2 890.1 L508.7 891.2 L509.1 892.2 L509.5 893.3 L509.9 894.4 L510.2 895.5 L510.5 896.6 L510.8 897.7 L511.0 898.9 L511.2 900.1 L511.3 901.2 L511.4 902.4 L511.5 903.6 L511.5 904.7 Z" fill="#2a2ed5"/>
<path d="M108.1 916.7 L110.2 917.8 L112.8 919.1 L115.9 920.6 L119.4 922.3 L123.2 924.2 L127.2 926.2 L131.3 928.2 L135.4 930.2 L139.5 932.2 L143.4 934.1 L147.2 935.9 L151.2 937.8 L155.2 939.7 L159.3 941.6 L163.4 943.5 L167.5 945.4 L171.6 947.3 L175.7 949.2 L179.6 951.0 L183.4 952.7 L187.1 954.5 L190.8 956.2 L194.5 958.0 L198.2 959.7 L201.7 961.4 L205.2 963.0 L208.6 964.6 L211.9 966.1 L215.1 967.5 L218.1 968.8 L221.0 970.0 L223.8 971.1 L226.5 972.1 L229.0 973.1 L231.5 974.0 L233.9 974.8 L236.1 975.6 L238.2 976.3 L240.2 977.0 L242.1 977.6 L243.8 978.1 L245.3 978.6 L246.6 978.9 L247.8 979.3 L248.9 979.5 L250.0 979.7 L251.0 979.9 L252.0 980.1 L253.0 980.2 L254.1 980.2 L255.2 980.3 L256.2 980.4 L257.1 980.4 L258.0 980.4 L258.9 980.4 L259.8 980.3 L260.8 980.1 L262.0 979.8 L263.3 979.4 L264.8 978.9" fill="none" stroke="#0b0b2a" stroke-width="1"/>
<path d="M303.5 954.1 L305.1 952.5 L306.8 950.9 L308.5 949.2 L310.1 947.6 L311.7 945.9 L313.3 944.1 L314.9 942.3 L316.5 940.5 L318.0 938.6 L319.5 936.7 L320.9 934.8 L322.4 932.8 L323.8 930.7 L325.1 928.6 L326.5 926.5 L327.8 924.3 L329.1 922.1 L330.4 919.9 L331.6 917.7 L332.8 915.4 L334.0 913.1 L335.2 910.8 L336.3 908.5 L337.4 906.1 L338.4 903.7 L339.5 901.3 L340.5 898.9 L341.5 896.4 L342.5 893.9 L343.5 891.4 L344.5 888.8 L345.5 886.1 L346.4 883.4 L347.4 880.7 L348.3 878.0 L349.3 875.2 L350.2 872.5 L351.1 869.8 L352.0 867.2 L352.8 864.7 L353.7 862.1 L354.7 859.5 L355.6 856.8 L356.5 854.1 L357.4 851.5 L358.3 849.1 L359.1 846.8 L359.8 844.8 L360.4 843.1 L360.8 841.7" fill="none" stroke="#0b0b2a" stroke-width="1"/>
<path d="M108.1 1009.3 L110.2 1010.0 L112.8 1010.9 L115.9 1011.9 L119.4 1013.0 L123.2 1014.2 L127.2 1015.5 L131.3 1016.9 L135.4 1018.2 L139.5 1019.5 L143.4 1020.8 L147.2 1022.1 L151.1 1023.4 L155.0 1024.8 L159.0 1026.2 L163.1 1027.6 L167.2 1029.0 L171.2 1030.4 L175.3 1031.7 L179.4 1033.0 L183.4 1034.1 L187.4 1035.3 L191.4 1036.3 L195.4 1037.4 L199.4 1038.4 L203.4 1039.3 L207.4 1040.2 L211.4 1041.1 L215.4 1041.9 L219.4 1042.7 L223.4 1043.5 L227.4 1044.2 L231.4 1044.8 L235.4 1045.5 L239.4 1046.0 L243.4 1046.6 L247.4 1047.1 L251.4 1047.5 L255.4 1048.0 L259.4 1048.4 L263.4 1048.8 L267.5 1049.2 L271.7 1049.6 L275.9 1049.9 L280.1 1050.2 L284.3 1050.4 L288.4 1050.7 L292.4 1050.9 L296.3 1051.1 L300.0 1051.3 L303.5 1051.5 L306.7 1051.6 L309.7 1051.8 L312.5 1051.9 L315.1 1052.0 L317.7 1052.0 L320.1 1052.1 L322.6 1052.1 L325.0 1052.1 L327.6 1052.1 L330.2 1052.0 L332.8 1052.0 L335.5 1051.9 L338.2 1051.8 L340.8 1051.6 L343.5 1051.5 L346.2 1051.3 L348.8 1051.1 L351.5 1050.9 L354.2 1050.7 L356.8 1050.4 L359.5 1050.1 L362.2 1049.8 L364.8 1049.4 L367.5 1049.1 L370.2 1048.7 L372.9 1048.3 L375.5 1047.9 L378.2 1047.5 L380.9 1047.1 L383.5 1046.7 L386.2 1046.3 L388.9 1045.9 L391.5 1045.5 L394.2 1045.1 L396.9 1044.7 L399.5 1044.3 L402.2 1043.9 L404.9 1043.6 L407.5 1043.3 L410.2 1042.9 L412.9 1042.6 L415.5 1042.3 L418.1 1042.0 L420.7 1041.8 L423.4 1041.5 L426.0 1041.3 L428.7 1041.1 L431.4 1040.9 L434.1 1040.8 L436.9 1040.8 L439.8 1040.8 L442.7 1040.9 L445.7 1040.9 L448.7 1041.0 L451.8 1041.2 L454.8 1041.4 L457.9 1041.7 L460.9 1042.0 L463.8 1042.4 L466.7 1042.9 L469.5 1043.5 L472.3 1044.2 L475.2 1044.9 L478.0 1045.7 L480.7 1046.5 L483.4 1047.4 L486.0 1048.4 L488.6 1049.4 L491.0 1050.4 L493.4 1051.5 L495.6 1052.6 L497.7 1053.8 L499.7 1055.0 L501.7 1056.2 L503.5 1057.5 L505.3 1058.9 L507.1 1060.3 L508.8 1061.7 L510.4 1063.3 L512.0 1064.8 L513.6 1066.5 L515.1 1068.2 L516.5 1070.0 L517.9 1071.8 L519.2 1073.7 L520.5 1075.6 L521.8 1077.5 L523.0 1079.5 L524.2 1081.5 L525.4 1083.5 L526.6 1085.5 L527.7 1087.6 L528.9 1089.7 L530.0 1091.8 L531.1 1094.0 L532.1 1096.2 L533.1 1098.4 L534.1 1100.5 L535.1 1102.7 L536.1 1104.8 L537.0 1107.0 L537.9 1109.2 L538.7 1111.5 L539.6 1113.7 L540.4 1115.9 L541.1 1118.1 L541.9 1120.3 L542.6 1122.4 L543.4 1124.3 L544.1 1126.2 L544.8 1128.0 L545.5 1129.8 L546.2 1131.6 L546.9 1133.3 L547.5 1134.9 L548.1 1136.4 L548.7 1137.8 L549.2 1139.0 L549.6 1140.1 L549.9 1140.9" fill="none" stroke="#0b0b2a" stroke-width="1"/>
<path d="M648.1 841.7 L648.4 842.9 L648.8 844.4 L649.3 846.3 L649.8 848.3 L650.3 850.5 L650.9 852.8 L651.5 855.2 L652.2 857.6 L652.8 859.9 L653.5 862.0 L654.2 864.1 L654.9 866.3 L655.6 868.4 L656.4 870.6 L657.1 872.8 L658.0 875.0 L658.8 877.1 L659.7 879.3 L660.6 881.3 L661.5 883.4 L662.4 885.4 L663.4 887.3 L664.3 889.3 L665.3 891.2 L666.3 893.1 L667.4 895.0 L668.5 896.8 L669.6 898.6 L670.9 900.4 L672.2 902.0 L673.5 903.7 L675.0 905.3 L676.5 906.9 L678.0 908.5 L679.7 910.0 L681.3 911.5 L683.0 912.9 L684.7 914.2 L686.4 915.5 L688.2 916.7 L689.9 917.9 L691.7 918.9 L693.5 920.0 L695.3 920.9 L697.2 921.8 L699.1 922.7 L701.0 923.4 L702.9 924.2 L704.9 924.9 L706.8 925.5 L708.8 926.1 L710.9 926.7 L712.9 927.2 L714.9 927.7 L717.0 928.1 L719.1 928.4 L721.3 928.7 L723.5 929.0 L725.8 929.1 L728.2 929.3 L730.6 929.3 L733.1 929.3 L735.6 929.3 L738.2 929.2 L740.9 929.0 L743.6 928.8 L746.3 928.5 L749.1 928.2 L752.0 927.8 L754.9 927.4 L757.8 926.9 L760.8 926.4 L763.8 925.8 L766.9 925.2 L770.1 924.6 L773.3 923.8 L776.6 923.0 L779.9 922.2 L783.4 921.2 L786.9 920.2 L790.6 919.0 L794.6 917.7 L798.7 916.3 L802.9 914.8 L807.1 913.2 L811.3 911.7 L815.5 910.1 L819.4 908.6 L823.2 907.3 L826.7 906.1 L829.9 904.9 L832.9 903.9 L835.7 902.9 L838.3 901.9 L840.8 901.0 L843.3 900.1 L845.8 899.3 L848.2 898.6 L850.8 897.9 L853.4 897.2 L856.1 896.6 L858.8 896.1 L861.5 895.6 L864.3 895.2 L867.0 894.8 L869.8 894.4 L872.4 894.1 L875.1 893.9 L877.6 893.7 L880.1 893.5 L882.4 893.4 L884.7 893.4 L887.0 893.4 L889.2 893.5 L891.4 893.6 L893.5 893.7 L895.6 893.9 L897.6 894.1 L899.5 894.4 L901.4 894.6 L903.2 894.8 L905.0 895.1 L906.7 895.5 L908.4 895.8 L910.0 896.2 L911.6 896.6 L913.1 897.0 L914.6 897.4 L916.0 897.7 L917.4 898.0 L918.8 898.4 L920.0 898.7 L921.2 899.1 L922.4 899.4 L923.5 899.7 L924.6 900.0 L925.7 900.3 L926.9 900.5 L928.1 900.6 L929.4 900.7 L930.7 900.7 L932.1 900.6 L933.4 900.4 L934.8 900.2 L936.2 899.9 L937.6 899.6 L939.1 899.3 L940.7 899.0 L942.3 898.8 L944.1 898.6 L946.0 898.4 L948.0 898.2 L950.1 898.0 L952.3 897.8 L954.5 897.6 L956.8 897.4 L959.0 897.3 L961.2 897.2 L963.4 897.2 L965.4 897.2 L967.4 897.4 L969.4 897.5 L971.3 897.7 L973.2 898.0 L975.1 898.3 L977.0 898.7 L978.8 899.1 L980.6 899.6 L982.4 900.1 L984.1 900.7 L985.9 901.4 L987.6 902.1 L989.3 903.0 L991.0 903.8 L992.6 904.8 L994.2 905.7 L995.8 906.8 L997.3 907.8 L998.8 908.9 L1000.1 910.1 L1001.4 911.2 L1002.7 912.4 L1003.9 913.7 L1005.0 915.0 L1006.1 916.3 L1007.1 917.7 L1008.1 919.1 L1009.1 920.5 L1010.0 921.9 L1010.8 923.4 L1011.6 924.9 L1012.4 926.5 L1013.1 928.2 L1013.7 929.9 L1014.3 931.7 L1014.9 933.4 L1015.4 935.0 L1015.9 936.6 L1016.3 938.1 L1016.7 939.4 L1017.0 940.6 L1017.3 941.5 L1017.5 942.3 L1017.7 943.0 L1017.8 943.7 L1017.9 944.4 L1017.9 945.2 L1018.0 946.1 L1018.0 947.3 L1018.0 948.7" fill="none" stroke="#0b0b2a" stroke-width="1"/>
<path d="M1013.5 995.4 L1012.9 997.8 L1012.3 1000.2 L1011.6 1002.6 L1010.9 1004.9 L1010.1 1007.3 L1009.3 1009.7 L1008.4 1012.1 L1007.5 1014.5 L1006.5 1016.9 L1005.5 1019.5 L1004.4 1022.0 L1003.2 1024.7 L1001.9 1027.4 L1000.6 1030.1 L999.3 1032.8 L997.9 1035.5 L996.5 1038.3 L995.1 1040.9 L993.6 1043.6 L992.1 1046.1 L990.6 1048.7 L989.1 1051.1 L987.6 1053.5 L986.0 1055.9 L984.5 1058.3 L982.8 1060.7 L981.2 1063.0 L979.5 1065.4 L977.8 1067.8 L976.1 1070.2 L974.3 1072.6 L972.5 1075.0 L970.5 1077.4 L968.6 1079.9 L966.6 1082.3 L964.7 1084.8 L962.7 1087.2 L960.9 1089.5 L959.1 1091.9 L957.4 1094.2 L955.9 1096.4 L954.3 1098.7 L952.9 1100.9 L951.5 1103.2 L950.1 1105.4 L948.8 1107.5 L947.5 1109.6 L946.3 1111.6 L945.2 1113.6 L944.1 1115.5 L943.1 1117.4 L942.1 1119.2 L941.2 1120.9 L940.3 1122.6 L939.5 1124.3 L938.7 1125.9 L938.0 1127.4 L937.3 1128.8 L936.7 1130.2 L936.1 1131.5 L935.5 1132.8 L935.1 1134.0 L934.6 1135.1 L934.2 1136.2 L933.9 1137.2 L933.5 1138.1 L933.3 1139.0 L933.0 1139.7 L932.8 1140.4 L932.6 1140.9" fill="none" stroke="#0b0b2a" stroke-width="1"/>
<path d="M511.5 904.7 L511.5 905.9 L511.4 907.0 L511.3 908.2 L511.2 909.4 L511.0 910.5 L510.8 911.7 L510.5 912.9 L510.2 914.0 L509.9 915.1 L509.5 916.2 L509.1 917.2 L508.7 918.3 L508.2 919.3 L507.7 920.3 L507.1 921.3 L506.5 922.3 L505.9 923.2 L505.2 924.1 L504.6 925.0 L503.9 925.8 L503.1 926.6 L502.4 927.4 L501.6 928.2 L500.7 928.9 L499.9 929.6 L499.0 930.2 L498.1 930.8 L497.2 931.4 L496.3 931.9 L495.4 932.3 L494.4 932.7 L493.5 933.1 L492.5 933.5 L491.5 933.8 L490.5 934.0 L489.4 934.2 L488.4 934.4 L487.4 934.5 L486.4 934.6 L485.4 934.6 L484.4 934.6 L483.3 934.5 L482.3 934.4 L481.3 934.2 L480.3 934.0 L479.2 933.8 L478.2 933.5 L477.3 933.1 L476.3 932.7 L475.4 932.3 L474.4 931.9 L473.5 931.4 L472.6 930.8 L471.7 930.2 L470.8 929.6 L470.0 928.9 L469.2 928.2 L468.4 927.4 L467.6 926.6 L466.9 925.8 L466.2 925.0 L465.5 924.1 L464.8 923.2 L464.2 922.3 L463.6 921.3 L463.1 920.3 L462.5 919.3 L462.1 918.3 L461.6 917.2 L461.2 916.2 L460.8 915.1 L460.5 914.0 L460.2 912.9 L460.0 911.7 L459.7 910.5 L459.5 909.4 L459.4 908.2 L459.3 907.0 L459.2 905.9 L459.2 904.7 L459.2 903.6 L459.3 902.4 L459.4 901.2 L459.5 900.1 L459.7 898.9 L460.0 897.7 L460.2 896.6 L460.5 895.5 L460.8 894.4 L461.2 893.3 L461.6 892.2 L462.1 891.2 L462.5 890.1 L463.1 889.1 L463.6 888.1 L464.2 887.1 L464.8 886.2 L465.5 885.3 L466.2 884.4 L466.9 883.6 L467.6 882.8 L468.4 882.0 L469.2 881.3 L470.0 880.6 L470.8 879.9 L471.7 879.2 L472.6 878.6 L473.5 878.1 L474.4 877.6 L475.4 877.1 L476.3 876.7 L477.3 876.3 L478.2 876.0 L479.2 875.7 L480.3 875.4 L481.3 875.2 L482.3 875.0 L483.3 874.9 L484.4 874.9 L485.4 874.8 L486.4 874.9 L487.4 874.9 L488.4 875.0 L489.4 875.2 L490.5 875.4 L491.5 875.7 L492.5 876.0 L493.5 876.3 L494.4 876.7 L495.4 877.1 L496.3 877.6 L497.2 878.1 L498.1 878.6 L499.0 879.2 L499.9 879.9 L500.7 880.6 L501.6 881.3 L502.4 882.0 L503.1 882.8 L503.9 883.6 L504.6 884.4 L505.2 885.3 L505.9 886.2 L506.5 887.1 L507.1 888.1 L507.7 889.1 L508.2 890.1 L508.7 891.2 L509.1 892.2 L509.5 893.3 L509.9 894.4 L510.2 895.5 L510.5 896.6 L510.8 897.7 L511.0 898.9 L511.2 900.1 L511.3 901.2 L511.4 902.4 L511.5 903.6 L511.5 904.7" fill="none" stroke="#0b0b2a" stroke-width="1"/>
<text transform="translate(284.6 966.4) rotate(-31.0) scale(0.97 1)" x="0" y="10.2" text-anchor="middle" font-family="'Liberation Sans', sans-serif" font-size="28.5" fill="#05051a">19</text>
<text transform="translate(1016.1 971.4) rotate(-90.0) scale(0.97 1)" x="0" y="10.2" text-anchor="middle" font-family="'Liberation Sans', sans-serif" font-size="28.5" fill="#05051a">19</text>
<line x1="108.1" y1="1140.9" x2="108.1" y2="1126.4" stroke="#0b0b2a" stroke-width="1"/>
<text transform="translate(107.8 1173.8) scale(0.97 1)" text-anchor="middle" font-family="'Liberation Sans', sans-serif" font-size="29.5" fill="#000">0</text>
<line x1="257.6" y1="1140.9" x2="257.6" y2="1126.4" stroke="#0b0b2a" stroke-width="1"/>
<text transform="translate(257.3 1173.8) scale(0.97 1)" text-anchor="middle" font-family="'Liberation Sans', sans-serif" font-size="29.5" fill="#000">10</text>
<line x1="407.1" y1="1140.9" x2="407.1" y2="1126.4" stroke="#0b0b2a" stroke-width="1"/>
<text transform="translate(406.8 1173.8) scale(0.97 1)" text-anchor="middle" font-family="'Liberation Sans', sans-serif" font-size="29.5" fill="#000">20</text>
<line x1="556.6" y1="1140.9" x2="556.6" y2="1126.4" stroke="#0b0b2a" stroke-width="1"/>
<text transform="translate(556.3 1173.8) scale(0.97 1)" text-anchor="middle" font-family="'Liberation Sans', sans-serif" font-size="29.5" fill="#000">30</text>
<line x1="706.2" y1="1140.9" x2="706.2" y2="1126.4" stroke="#0b0b2a" stroke-width="1"/>
<text transform="translate(705.9 1173.8) scale(0.97 1)" text-anchor="middle" font-family="'Liberation Sans', sans-serif" font-size="29.5" fill="#000">40</text>
<line x1="855.7" y1="1140.9" x2="855.7" y2="1126.4" stroke="#0b0b2a" stroke-width="1"/>
<text transform="translate(855.4 1173.8) scale(0.97 1)" text-anchor="middle" font-family="'Liberation Sans', sans-serif" font-size="29.5" fill="#000">50</text>
<line x1="1005.2" y1="1140.9" x2="1005.2" y2="1126.4" stroke="#0b0b2a" stroke-width="1"/>
<text transform="translate(1004.9 1173.8) scale(0.97 1)" text-anchor="middle" font-family="'Liberation Sans', sans-serif" font-size="29.5" fill="#000">60</text>
<line x1="1154.7" y1="1140.9" x2="1154.7" y2="1126.4" stroke="#0b0b2a" stroke-width="1"/>
<text transform="translate(1154.4 1173.8) scale(0.97 1)" text-anchor="middle" font-family="'Liberation Sans', sans-serif" font-size="29.5" fill="#000">70</text>
<line x1="1304.2" y1="1140.9" x2="1304.2" y2="1126.4" stroke="#0b0b2a" stroke-width="1"/>
<text transform="translate(1303.9 1173.8) scale(0.97 1)" text-anchor="middle" font-family="'Liberation Sans', sans-serif" font-size="29.5" fill="#000">80</text>
<line x1="108.1" y1="1140.9" x2="123.1" y2="1140.9" stroke="#0b0b2a" stroke-width="1"/>
<text transform="translate(104.7 1151.5) scale(0.97 1)" text-anchor="end" font-family="'Liberation Sans', sans-serif" font-size="29.5" fill="#000">0</text>
<line x1="108.1" y1="1066.1" x2="123.1" y2="1066.1" stroke="#0b0b2a" stroke-width="1"/>
<text transform="translate(104.7 1076.7) scale(0.97 1)" text-anchor="end" font-family="'Liberation Sans', sans-serif" font-size="29.5" fill="#000">5</text>
<line x1="108.1" y1="991.3" x2="123.1" y2="991.3" stroke="#0b0b2a" stroke-width="1"/>
<text transform="translate(104.7 1001.9) scale(0.97 1)" text-anchor="end" font-family="'Liberation Sans', sans-serif" font-size="29.5" fill="#000">10</text>
<line x1="108.1" y1="916.5" x2="123.1" y2="916.5" stroke="#0b0b2a" stroke-width="1"/>
<text transform="translate(104.7 927.1) scale(0.97 1)" text-anchor="end" font-family="'Liberation Sans', sans-serif" font-size="29.5" fill="#000">15</text>
<line x1="108.1" y1="841.7" x2="123.1" y2="841.7" stroke="#0b0b2a" stroke-width="1"/>
<text transform="translate(104.7 852.3) scale(0.97 1)" text-anchor="end" font-family="'Liberation Sans', sans-serif" font-size="29.5" fill="#000">20</text>
<path d="M108.1 841.7 V1140.9 M1304.2 841.7 V1140.9" fill="none" stroke="#0c0c50" stroke-width="1"/>
<path d="M107.6 841.7 H1304.7 M107.6 1140.9 H1304.7" fill="none" stroke="#080838" stroke-width="1.4"/>
<text x="126.2" y="880.6" font-family="'Liberation Serif', serif" font-size="43" fill="#05051a">14h</text>
<text x="611.8" y="1207.2" font-family="'Liberation Serif', serif" font-size="38.8" fill="#000">Length(cm<tspan dy="-4">)</tspan></text>
<text transform="translate(59.0 994.8) rotate(-90) scale(0.955 1)" text-anchor="middle" font-family="'Liberation Serif', serif" font-size="40.0" fill="#000">Hight <tspan dy="-4.5">(</tspan><tspan dy="4.5">cm</tspan><tspan dy="-4.5">)</tspan></text>
</g>
<g>
<rect x="1405.0" y="373.30" width="50.0" height="38.35" fill="#3300cc"/>
<rect x="1405.0" y="411.35" width="50.0" height="38.35" fill="#2e17d1"/>
<rect x="1405.0" y="449.40" width="50.0" height="38.35" fill="#2a2ed5"/>
<rect x="1405.0" y="487.45" width="50.0" height="38.35" fill="#2546da"/>
<rect x="1405.0" y="525.50" width="50.0" height="38.35" fill="#205ddf"/>
<rect x="1405.0" y="563.55" width="50.0" height="38.35" fill="#1c74e3"/>
<rect x="1405.0" y="601.60" width="50.0" height="38.35" fill="#178be8"/>
<rect x="1405.0" y="639.65" width="50.0" height="38.35" fill="#13a2ec"/>
<rect x="1405.0" y="677.70" width="50.0" height="38.35" fill="#0eb9f1"/>
<rect x="1405.0" y="715.75" width="50.0" height="38.35" fill="#09d1f6"/>
<rect x="1405.0" y="753.80" width="50.0" height="38.35" fill="#05e8fa"/>
<rect x="1405.0" y="791.85" width="50.0" height="38.35" fill="#00ffff"/>
<rect x="1405.0" y="829.90" width="50.0" height="38.35" fill="#20ffff"/>
<rect x="1405.0" y="867.95" width="50.0" height="38.35" fill="#40ffff"/>
<rect x="1405.0" y="906.00" width="50.0" height="38.35" fill="#60ffff"/>
<rect x="1405.0" y="944.05" width="50.0" height="38.35" fill="#80ffff"/>
<rect x="1405.0" y="982.10" width="50.0" height="38.35" fill="#9fffff"/>
<rect x="1405.0" y="1020.15" width="50.0" height="38.35" fill="#bfffff"/>
<rect x="1405.0" y="1058.20" width="50.0" height="38.35" fill="#dfffff"/>
<rect x="1405.0" y="1096.25" width="50.0" height="38.35" fill="#ffffff"/>
<rect x="1405.0" y="1134.30" width="50.0" height="38.35" fill="#ffffff"/>
<line x1="1405.0" y1="411.35" x2="1455.0" y2="411.35" stroke="#000" stroke-opacity="0.72" stroke-width="1.1"/>
<line x1="1405.0" y1="449.40" x2="1455.0" y2="449.40" stroke="#000" stroke-opacity="0.72" stroke-width="1.1"/>
<line x1="1405.0" y1="487.45" x2="1455.0" y2="487.45" stroke="#000" stroke-opacity="0.72" stroke-width="1.1"/>
<line x1="1405.0" y1="525.50" x2="1455.0" y2="525.50" stroke="#000" stroke-opacity="0.72" stroke-width="1.1"/>
<line x1="1405.0" y1="563.55" x2="1455.0" y2="563.55" stroke="#000" stroke-opacity="0.72" stroke-width="1.1"/>
<line x1="1405.0" y1="601.60" x2="1455.0" y2="601.60" stroke="#000" stroke-opacity="0.72" stroke-width="1.1"/>
<line x1="1405.0" y1="639.65" x2="1455.0" y2="639.65" stroke="#000" stroke-opacity="0.72" stroke-width="1.1"/>
<line x1="1405.0" y1="677.70" x2="1455.0" y2="677.70" stroke="#000" stroke-opacity="0.72" stroke-width="1.1"/>
<line x1="1405.0" y1="715.75" x2="1455.0" y2="715.75" stroke="#000" stroke-opacity="0.72" stroke-width="1.1"/>
<line x1="1405.0" y1="753.80" x2="1455.0" y2="753.80" stroke="#000" stroke-opacity="0.72" stroke-width="1.1"/>
<line x1="1405.0" y1="791.85" x2="1455.0" y2="791.85" stroke="#000" stroke-opacity="0.72" stroke-width="1.1"/>
<line x1="1405.0" y1="829.90" x2="1455.0" y2="829.90" stroke="#000" stroke-opacity="0.72" stroke-width="1.1"/>
<line x1="1405.0" y1="867.95" x2="1455.0" y2="867.95" stroke="#000" stroke-opacity="0.72" stroke-width="1.1"/>
<line x1="1405.0" y1="906.00" x2="1455.0" y2="906.00" stroke="#000" stroke-opacity="0.72" stroke-width="1.1"/>
<line x1="1405.0" y1="944.05" x2="1455.0" y2="944.05" stroke="#000" stroke-opacity="0.72" stroke-width="1.1"/>
<line x1="1405.0" y1="982.10" x2="1455.0" y2="982.10" stroke="#000" stroke-opacity="0.72" stroke-width="1.1"/>
<line x1="1405.0" y1="1020.15" x2="1455.0" y2="1020.15" stroke="#000" stroke-opacity="0.72" stroke-width="1.1"/>
<line x1="1405.0" y1="1058.20" x2="1455.0" y2="1058.20" stroke="#000" stroke-opacity="0.72" stroke-width="1.1"/>
<line x1="1405.0" y1="1096.25" x2="1455.0" y2="1096.25" stroke="#000" stroke-opacity="0.72" stroke-width="1.1"/>
<line x1="1405.0" y1="1134.30" x2="1455.0" y2="1134.30" stroke="#000" stroke-opacity="0.72" stroke-width="1.1"/>
<rect x="1405.0" y="373.3" width="50.0" height="799.0" fill="none" stroke="#000" stroke-opacity="0.72" stroke-width="1.2"/>
<text transform="translate(1462.4 1182.9) scale(0.97 1)" font-family="'Liberation Sans', sans-serif" font-size="29.5" fill="#000">0</text>
<text transform="translate(1462.4 1144.9) scale(0.97 1)" font-family="'Liberation Sans', sans-serif" font-size="29.5" fill="#000">1</text>
<text transform="translate(1462.4 1106.8) scale(0.97 1)" font-family="'Liberation Sans', sans-serif" font-size="29.5" fill="#000">2</text>
<text transform="translate(1462.4 1068.8) scale(0.97 1)" font-family="'Liberation Sans', sans-serif" font-size="29.5" fill="#000">3</text>
<text transform="translate(1462.4 1030.7) scale(0.97 1)" font-family="'Liberation Sans', sans-serif" font-size="29.5" fill="#000">4</text>
<text transform="translate(1462.4 992.7) scale(0.97 1)" font-family="'Liberation Sans', sans-serif" font-size="29.5" fill="#000">5</text>
<text transform="translate(1462.4 954.6) scale(0.97 1)" font-family="'Liberation Sans', sans-serif" font-size="29.5" fill="#000">6</text>
<text transform="translate(1462.4 916.6) scale(0.97 1)" font-family="'Liberation Sans', sans-serif" font-size="29.5" fill="#000">7</text>
<text transform="translate(1462.4 878.6) scale(0.97 1)" font-family="'Liberation Sans', sans-serif" font-size="29.5" fill="#000">8</text>
<text transform="translate(1462.4 840.5) scale(0.97 1)" font-family="'Liberation Sans', sans-serif" font-size="29.5" fill="#000">9</text>
<text transform="translate(1462.4 802.4) scale(0.97 1)" font-family="'Liberation Sans', sans-serif" font-size="29.5" fill="#000">10</text>
<text transform="translate(1462.4 764.4) scale(0.97 1)" font-family="'Liberation Sans', sans-serif" font-size="29.5" fill="#000">11</text>
<text transform="translate(1462.4 726.4) scale(0.97 1)" font-family="'Liberation Sans', sans-serif" font-size="29.5" fill="#000">12</text>
<text transform="translate(1462.4 688.3) scale(0.97 1)" font-family="'Liberation Sans', sans-serif" font-size="29.5" fill="#000">13</text>
<text transform="translate(1462.4 650.2) scale(0.97 1)" font-family="'Liberation Sans', sans-serif" font-size="29.5" fill="#000">14</text>
<text transform="translate(1462.4 612.2) scale(0.97 1)" font-family="'Liberation Sans', sans-serif" font-size="29.5" fill="#000">15</text>
<text transform="translate(1462.4 574.1) scale(0.97 1)" font-family="'Liberation Sans', sans-serif" font-size="29.5" fill="#000">16</text>
<text transform="translate(1462.4 536.1) scale(0.97 1)" font-family="'Liberation Sans', sans-serif" font-size="29.5" fill="#000">17</text>
<text transform="translate(1462.4 498.1) scale(0.97 1)" font-family="'Liberation Sans', sans-serif" font-size="29.5" fill="#000">18</text>
<text transform="translate(1462.4 460.0) scale(0.97 1)" font-family="'Liberation Sans', sans-serif" font-size="29.5" fill="#000">19</text>
<text transform="translate(1462.4 422.0) scale(0.97 1)" font-family="'Liberation Sans', sans-serif" font-size="29.5" fill="#000">20</text>
<text x="1399" y="352.7" font-family="'Liberation Serif', serif" font-size="31" fill="#000">mg/L</text>
</g>
</svg>
</body>
</html>
